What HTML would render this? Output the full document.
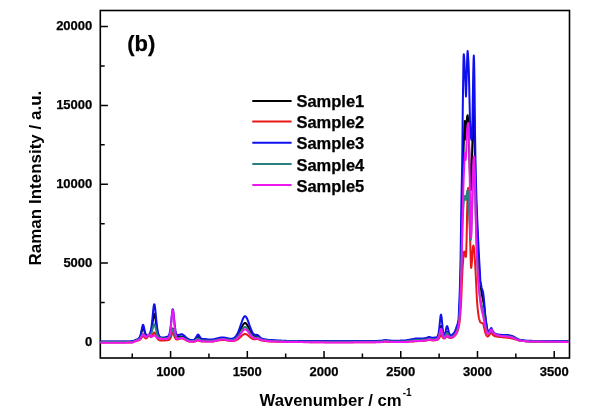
<!DOCTYPE html>
<html><head><meta charset="utf-8"><title>Raman</title><style>
html,body{margin:0;padding:0;background:#fff;}
body{width:601px;height:415px;overflow:hidden;}
svg{display:block;}
text{font-family:"Liberation Sans",Arial,sans-serif;font-weight:bold;fill:#000;stroke:#000;stroke-width:0.25px;}
.t{font-size:13px;}
.lg{font-size:16.5px;}
.ax{font-size:16.7px;stroke-width:0;}
.b{font-size:22px;}
</style></head><body>
<svg width="601" height="415" viewBox="0 0 601 415">
<rect x="100.30" y="10.50" width="469.20" height="347.50" fill="none" stroke="#000" stroke-width="1.6"/>
<path d="M132.24,358.00 V353.60 M170.60,358.00 V351.00 M208.96,358.00 V353.60 M247.32,358.00 V351.00 M285.68,358.00 V353.60 M324.04,358.00 V351.00 M362.40,358.00 V353.60 M400.76,358.00 V351.00 M439.12,358.00 V353.60 M477.48,358.00 V351.00 M515.84,358.00 V353.60 M554.20,358.00 V351.00 M100.30,342.00 H107.90 M100.30,302.56 H104.70 M100.30,263.12 H107.90 M100.30,223.69 H104.70 M100.30,184.25 H107.90 M100.30,144.81 H104.70 M100.30,105.38 H107.90 M100.30,65.94 H104.70 M100.30,26.50 H107.90" stroke="#000" stroke-width="1.5" fill="none"/>
<g fill="none" stroke-width="2" stroke-linejoin="round" stroke-linecap="round">
<path d="M101.1,341.8 101.6,341.8 102.1,341.8 102.6,341.8 103.1,341.8 103.6,341.8 104.1,341.8 104.6,341.8 105.1,341.8 105.6,341.8 106.1,341.8 106.6,341.8 107.1,341.8 107.6,341.8 108.1,341.8 108.6,341.8 109.1,341.8 109.6,341.8 110.1,341.8 110.6,341.8 111.1,341.8 111.6,341.8 112.1,341.8 112.6,341.8 113.1,341.8 113.6,341.8 114.1,341.8 114.6,341.8 115.1,341.8 115.6,341.8 116.1,341.8 116.6,341.8 117.1,341.8 117.6,341.8 118.1,341.8 118.6,341.8 119.1,341.8 119.6,341.8 120.1,341.8 120.6,341.8 121.1,341.8 121.6,341.8 122.1,341.8 122.6,341.8 123.1,341.8 123.6,341.8 124.1,341.8 124.6,341.8 125.1,341.8 125.6,341.8 126.1,341.8 126.6,341.8 127.1,341.8 127.6,341.8 128.1,341.8 128.6,341.8 129.1,341.8 129.6,341.8 130.1,341.7 130.6,341.7 131.1,341.7 131.6,341.7 132.1,341.7 132.6,341.5 133.1,341.3 133.6,341.1 134.1,341.0 134.6,340.8 135.1,340.6 135.6,340.4 136.1,340.2 136.6,340.0 137.1,339.8 137.6,339.6 138.1,339.3 138.6,339.0 139.1,338.6 139.6,338.0 140.1,337.1 140.6,335.8 141.1,334.0 141.6,331.8 142.1,329.5 142.6,327.6 143.1,327.0 143.6,327.9 144.1,329.8 144.6,331.8 145.1,333.6 145.6,334.8 146.1,335.6 146.6,336.0 147.1,336.0 147.6,335.9 148.1,335.6 148.6,335.3 149.1,334.9 149.6,334.6 150.1,334.1 150.6,333.1 151.1,331.5 151.6,329.2 152.1,326.2 152.6,322.6 153.1,318.8 153.6,315.5 154.1,313.7 154.6,313.9 155.1,316.3 155.6,319.9 156.1,323.8 156.6,327.5 157.1,330.5 157.6,333.0 158.1,334.7 158.6,336.0 159.1,336.8 159.6,337.4 160.1,337.7 160.6,337.8 161.1,338.0 161.6,338.0 162.1,338.1 162.6,338.1 163.1,338.1 163.6,338.1 164.1,338.0 164.6,338.0 165.1,337.9 165.6,337.9 166.1,337.8 166.6,337.8 167.1,337.8 167.6,337.7 168.1,337.6 168.6,337.5 169.1,337.2 169.6,336.7 170.1,335.8 170.6,334.7 171.1,333.1 171.6,331.4 172.1,329.7 172.6,328.6 173.1,328.7 173.6,329.9 174.1,331.7 174.6,333.4 175.1,334.8 175.6,335.9 176.1,336.5 176.6,336.9 177.1,337.0 177.6,337.0 178.1,337.0 178.6,336.9 179.1,336.8 179.6,336.7 180.1,336.6 180.6,336.5 181.1,336.4 181.6,336.4 182.1,336.5 182.6,336.7 183.1,336.9 183.6,337.1 184.1,337.4 184.6,337.7 185.1,338.0 185.6,338.4 186.1,338.7 186.6,339.0 187.1,339.3 187.6,339.5 188.1,339.7 188.6,339.9 189.1,340.1 189.6,340.3 190.1,340.4 190.6,340.5 191.1,340.6 191.6,340.7 192.1,340.8 192.6,340.8 193.1,340.7 193.6,340.6 194.1,340.4 194.6,340.2 195.1,339.9 195.6,339.4 196.1,338.9 196.6,338.2 197.1,337.6 197.6,337.1 198.1,337.0 198.6,337.2 199.1,337.7 199.6,338.3 200.1,338.8 200.6,339.2 201.1,339.6 201.6,339.8 202.1,339.9 202.6,340.0 203.1,340.0 203.6,340.0 204.1,340.0 204.6,340.0 205.1,340.0 205.6,340.1 206.1,340.1 206.6,340.2 207.1,340.2 207.6,340.2 208.1,340.3 208.6,340.3 209.1,340.3 209.6,340.3 210.1,340.3 210.6,340.3 211.1,340.3 211.6,340.3 212.1,340.3 212.6,340.2 213.1,340.1 213.6,340.1 214.1,340.0 214.6,339.9 215.1,339.8 215.6,339.6 216.1,339.5 216.6,339.4 217.1,339.3 217.6,339.2 218.1,339.1 218.6,339.0 219.1,338.9 219.6,338.8 220.1,338.7 220.6,338.6 221.1,338.6 221.6,338.5 222.1,338.5 222.6,338.5 223.1,338.5 223.6,338.5 224.1,338.6 224.6,338.6 225.1,338.7 225.6,338.7 226.1,338.8 226.6,338.9 227.1,339.0 227.6,339.1 228.1,339.2 228.6,339.3 229.1,339.3 229.6,339.4 230.1,339.5 230.6,339.5 231.1,339.5 231.6,339.5 232.1,339.5 232.6,339.4 233.1,339.3 233.6,339.1 234.1,338.8 234.6,338.6 235.1,338.2 235.6,337.8 236.1,337.3 236.6,336.8 237.1,336.1 237.6,335.4 238.1,334.6 238.6,333.8 239.1,332.9 239.6,331.9 240.1,330.8 240.6,329.8 241.1,328.7 241.6,327.6 242.1,326.5 242.6,325.6 243.1,324.7 243.6,324.0 244.1,323.4 244.6,323.1 245.1,323.0 245.6,323.1 246.1,323.5 246.6,324.1 247.1,324.8 247.6,325.7 248.1,326.7 248.6,327.7 249.1,328.7 249.6,329.8 250.1,330.8 250.6,331.7 251.1,332.6 251.6,333.5 252.1,334.2 252.6,334.9 253.1,335.4 253.6,335.9 254.1,336.2 254.6,336.4 255.1,336.5 255.6,336.5 256.1,336.4 256.6,336.4 257.1,336.4 257.6,336.5 258.1,336.8 258.6,337.1 259.1,337.5 259.6,337.9 260.1,338.3 260.6,338.6 261.1,338.9 261.6,339.1 262.1,339.2 262.6,339.4 263.1,339.5 263.6,339.7 264.1,339.8 264.6,339.8 265.1,339.9 265.6,340.0 266.1,340.1 266.6,340.1 267.1,340.2 267.6,340.2 268.1,340.3 268.6,340.4 269.1,340.4 269.6,340.5 270.1,340.5 270.6,340.5 271.1,340.6 271.6,340.6 272.1,340.6 272.6,340.6 273.1,340.7 273.6,340.7 274.1,340.7 274.6,340.7 275.1,340.8 275.6,340.8 276.1,340.8 276.6,340.8 277.1,340.8 277.6,340.9 278.1,340.9 278.6,340.9 279.1,340.9 279.6,340.9 280.1,341.0 280.6,341.0 281.1,341.0 281.6,341.0 282.1,341.0 282.6,341.1 283.1,341.1 283.6,341.1 284.1,341.1 284.6,341.1 285.1,341.1 285.6,341.2 286.1,341.2 286.6,341.2 287.1,341.2 287.6,341.2 288.1,341.2 288.6,341.3 289.1,341.3 289.6,341.3 290.1,341.3 290.6,341.3 291.1,341.3 291.6,341.3 292.1,341.3 292.6,341.3 293.1,341.3 293.6,341.3 294.1,341.3 294.6,341.3 295.1,341.3 295.6,341.3 296.1,341.3 296.6,341.3 297.1,341.3 297.6,341.3 298.1,341.3 298.6,341.3 299.1,341.3 299.6,341.3 300.1,341.3 300.6,341.3 301.1,341.3 301.6,341.3 302.1,341.4 302.6,341.4 303.1,341.4 303.6,341.4 304.1,341.4 304.6,341.4 305.1,341.4 305.6,341.4 306.1,341.4 306.6,341.4 307.1,341.4 307.6,341.4 308.1,341.4 308.6,341.4 309.1,341.4 309.6,341.4 310.1,341.4 310.6,341.4 311.1,341.4 311.6,341.4 312.1,341.4 312.6,341.4 313.1,341.4 313.6,341.4 314.1,341.4 314.6,341.4 315.1,341.4 315.6,341.4 316.1,341.4 316.6,341.4 317.1,341.4 317.6,341.4 318.1,341.4 318.6,341.4 319.1,341.4 319.6,341.4 320.1,341.4 320.6,341.4 321.1,341.4 321.6,341.4 322.1,341.4 322.6,341.4 323.1,341.4 323.6,341.4 324.1,341.4 324.6,341.4 325.1,341.4 325.6,341.4 326.1,341.4 326.6,341.4 327.1,341.4 327.6,341.4 328.1,341.4 328.6,341.4 329.1,341.4 329.6,341.4 330.1,341.4 330.6,341.4 331.1,341.4 331.6,341.4 332.1,341.4 332.6,341.4 333.1,341.4 333.6,341.4 334.1,341.4 334.6,341.4 335.1,341.4 335.6,341.4 336.1,341.4 336.6,341.4 337.1,341.4 337.6,341.4 338.1,341.4 338.6,341.4 339.1,341.4 339.6,341.4 340.1,341.4 340.6,341.4 341.1,341.4 341.6,341.4 342.1,341.4 342.6,341.4 343.1,341.4 343.6,341.4 344.1,341.4 344.6,341.4 345.1,341.4 345.6,341.4 346.1,341.4 346.6,341.4 347.1,341.4 347.6,341.4 348.1,341.4 348.6,341.4 349.1,341.4 349.6,341.4 350.1,341.4 350.6,341.4 351.1,341.4 351.6,341.3 352.1,341.3 352.6,341.3 353.1,341.3 353.6,341.3 354.1,341.3 354.6,341.3 355.1,341.3 355.6,341.3 356.1,341.3 356.6,341.3 357.1,341.3 357.6,341.3 358.1,341.3 358.6,341.3 359.1,341.3 359.6,341.3 360.1,341.3 360.6,341.3 361.1,341.3 361.6,341.3 362.1,341.3 362.6,341.3 363.1,341.3 363.6,341.3 364.1,341.3 364.6,341.3 365.1,341.3 365.6,341.3 366.1,341.3 366.6,341.3 367.1,341.3 367.6,341.3 368.1,341.3 368.6,341.3 369.1,341.3 369.6,341.3 370.1,341.3 370.6,341.3 371.1,341.3 371.6,341.3 372.1,341.3 372.6,341.3 373.1,341.3 373.6,341.3 374.1,341.3 374.6,341.3 375.1,341.3 375.6,341.3 376.1,341.3 376.6,341.3 377.1,341.3 377.6,341.3 378.1,341.3 378.6,341.2 379.1,341.2 379.6,341.2 380.1,341.2 380.6,341.2 381.1,341.1 381.6,341.1 382.1,341.0 382.6,341.0 383.1,340.9 383.6,340.8 384.1,340.7 384.6,340.7 385.1,340.6 385.6,340.6 386.1,340.6 386.6,340.6 387.1,340.7 387.6,340.7 388.1,340.8 388.6,340.9 389.1,340.9 389.6,341.0 390.1,341.0 390.6,341.0 391.1,341.1 391.6,341.1 392.1,341.1 392.6,341.1 393.1,341.1 393.6,341.1 394.1,341.1 394.6,341.1 395.1,341.1 395.6,341.1 396.1,341.1 396.6,341.1 397.1,341.1 397.6,341.1 398.1,341.1 398.6,341.1 399.1,341.1 399.6,341.1 400.1,341.1 400.6,341.0 401.1,341.0 401.6,341.0 402.1,341.0 402.6,341.0 403.1,341.0 403.6,341.0 404.1,341.0 404.6,341.0 405.1,341.0 405.6,340.9 406.1,340.9 406.6,340.8 407.1,340.7 407.6,340.6 408.1,340.6 408.6,340.5 409.1,340.4 409.6,340.4 410.1,340.3 410.6,340.2 411.1,340.2 411.6,340.1 412.1,340.0 412.6,340.0 413.1,339.9 413.6,339.8 414.1,339.8 414.6,339.7 415.1,339.6 415.6,339.6 416.1,339.5 416.6,339.5 417.1,339.5 417.6,339.4 418.1,339.4 418.6,339.4 419.1,339.4 419.6,339.4 420.1,339.4 420.6,339.3 421.1,339.3 421.6,339.3 422.1,339.3 422.6,339.3 423.1,339.2 423.6,339.2 424.1,339.2 424.6,339.1 425.1,339.1 425.6,339.0 426.1,338.9 426.6,338.8 427.1,338.6 427.6,338.4 428.1,338.2 428.6,338.1 429.1,338.0 429.6,338.0 430.1,338.2 430.6,338.3 431.1,338.4 431.6,338.6 432.1,338.6 432.6,338.7 433.1,338.7 433.6,338.6 434.1,338.6 434.6,338.6 435.1,338.5 435.6,338.4 436.1,338.4 436.6,338.2 437.1,338.0 437.6,337.6 438.1,336.9 438.6,335.7 439.1,333.9 439.6,331.6 440.1,328.9 440.6,326.7 441.1,326.0 441.6,327.4 442.1,329.9 442.6,332.5 443.1,334.6 443.6,335.9 444.1,336.5 444.6,336.3 445.1,335.6 445.6,334.6 446.1,333.4 446.6,332.4 447.1,332.0 447.6,332.4 448.1,333.4 448.6,334.4 449.1,335.2 449.6,335.8 450.1,336.1 450.6,336.3 450.8,336.3 451.0,336.2 451.2,336.2 451.4,336.1 451.6,336.0 451.8,335.9 452.0,335.8 452.2,335.7 452.4,335.6 452.6,335.4 452.8,335.3 453.0,335.1 453.2,335.0 453.4,334.8 453.6,334.6 453.8,334.4 454.0,334.2 454.2,334.0 454.4,333.7 454.6,333.5 454.8,333.2 455.0,332.9 455.2,332.6 455.4,332.3 455.6,331.9 455.8,331.5 456.0,331.1 456.2,330.7 456.4,330.2 456.6,329.8 456.8,329.3 457.0,328.9 457.2,328.5 457.4,328.0 457.6,327.5 457.8,326.9 458.0,326.2 458.2,325.4 458.4,324.5 458.6,323.4 458.8,321.6 459.0,319.2 459.2,316.2 459.4,312.8 459.6,309.0 459.8,305.0 460.0,300.1 460.2,294.1 460.4,287.2 460.6,280.0 460.8,272.4 461.0,263.9 461.2,254.8 461.4,244.8 461.6,233.2 461.8,221.1 462.0,210.0 462.2,200.1 462.4,190.7 462.6,181.8 462.8,173.7 463.0,166.5 463.2,159.9 463.4,153.9 463.6,148.2 463.8,142.7 464.0,137.2 464.2,131.6 464.4,126.8 464.6,123.4 464.8,120.9 465.0,121.2 465.2,125.5 465.4,131.2 465.6,138.6 465.8,139.5 466.0,136.5 466.2,132.1 466.4,128.0 466.6,124.4 466.8,120.7 467.0,117.8 467.2,116.5 467.4,115.6 467.6,115.2 467.8,116.2 468.0,118.6 468.2,121.6 468.4,125.9 468.6,131.5 468.8,137.7 469.0,144.0 469.2,150.0 469.4,156.2 469.6,163.0 469.8,169.9 470.0,176.3 470.2,181.5 470.4,185.0 470.6,187.4 470.8,189.2 471.0,190.0 471.2,187.4 471.4,180.9 471.6,172.4 471.8,163.8 472.0,156.5 472.2,149.6 472.4,142.4 472.6,135.0 472.8,126.2 473.0,117.8 473.2,112.9 473.4,109.5 473.6,108.0 473.8,109.4 474.0,112.8 474.2,118.4 474.4,129.5 474.6,140.1 474.8,150.3 475.0,160.0 475.2,169.3 475.4,178.3 475.6,186.4 475.8,193.3 476.0,199.2 476.2,204.6 476.4,209.8 476.6,215.0 476.8,220.3 477.0,225.5 477.2,230.6 477.4,235.6 477.6,240.4 477.8,245.1 478.0,249.7 478.2,254.1 478.4,258.0 478.6,261.6 478.8,265.0 479.0,268.1 479.2,271.1 479.4,273.8 479.6,276.2 479.8,278.5 480.0,280.6 480.2,282.5 480.4,284.3 480.6,286.0 480.8,287.5 481.0,288.9 481.2,290.3 481.4,291.5 481.6,292.7 481.8,293.9 482.0,295.0 482.2,296.1 482.4,297.1 482.6,298.1 482.8,299.0 483.0,300.0 483.2,301.0 483.4,302.0 483.6,303.0 483.8,304.0 484.0,305.1 484.2,306.3 484.4,307.8 484.6,309.7 484.8,311.9 485.0,314.0 485.2,316.0 485.4,317.8 485.6,319.5 485.8,321.1 486.0,322.6 486.2,324.0 486.4,325.3 486.6,326.6 486.8,327.7 487.0,328.8 487.2,329.8 487.4,330.5 487.6,331.1 487.8,331.8 488.0,332.3 488.2,332.7 488.4,333.0 488.6,333.0 488.8,332.9 489.0,332.8 489.2,332.6 489.4,332.4 489.6,332.2 489.8,332.0 490.0,331.8 490.2,331.4 490.4,331.1 490.6,330.7 490.8,330.4 491.0,330.2 491.2,330.0 491.4,330.0 491.6,330.2 491.8,330.6 492.0,331.0 492.2,331.4 492.4,331.8 492.6,332.2 492.8,332.5 493.0,332.8 493.2,333.1 493.4,333.4 493.6,333.6 493.8,333.8 494.0,334.0 494.2,334.1 494.4,334.3 494.6,334.4 494.8,334.5 495.0,334.6 495.2,334.7 495.4,334.8 495.6,334.9 495.8,334.9 496.0,335.0 496.2,335.1 496.4,335.1 496.6,335.2 496.8,335.3 497.0,335.3 497.2,335.3 497.4,335.4 497.6,335.4 497.8,335.5 498.0,335.5 498.2,335.6 498.4,335.6 498.6,335.7 498.8,335.7 499.0,335.7 499.2,335.7 499.4,335.8 499.6,335.8 499.8,335.8 500.0,335.8 501.0,335.8 502.0,335.8 503.0,335.8 504.0,335.8 505.0,335.8 506.0,335.8 507.0,335.8 508.0,335.8 509.0,336.0 510.0,336.2 511.0,336.4 512.0,336.6 513.0,336.9 514.0,337.4 515.0,337.9 516.0,338.5 517.0,339.0 518.0,339.5 519.0,339.9 520.0,340.2 521.0,340.4 522.0,340.5 523.0,340.6 524.0,340.8 525.0,340.9 526.0,341.0 527.0,341.1 528.0,341.1 529.0,341.2 530.0,341.2 531.0,341.2 532.0,341.2 533.0,341.3 534.0,341.3 535.0,341.3 536.0,341.3 537.0,341.3 538.0,341.3 539.0,341.3 540.0,341.4 541.0,341.4 542.0,341.4 543.0,341.4 544.0,341.4 545.0,341.4 546.0,341.4 547.0,341.4 548.0,341.4 549.0,341.4 550.0,341.4 551.0,341.5 552.0,341.5 553.0,341.5 554.0,341.5 555.0,341.5 556.0,341.5 557.0,341.5 558.0,341.5 559.0,341.5 560.0,341.5 561.0,341.5 562.0,341.6 563.0,341.6 564.0,341.6 565.0,341.6 566.0,341.6 567.0,341.6 568.0,341.6" stroke="#000000"/>
<path d="M101.1,342.6 101.6,342.6 102.1,342.6 102.6,342.6 103.1,342.6 103.6,342.6 104.1,342.6 104.6,342.6 105.1,342.6 105.6,342.6 106.1,342.6 106.6,342.6 107.1,342.6 107.6,342.6 108.1,342.6 108.6,342.6 109.1,342.6 109.6,342.6 110.1,342.6 110.6,342.6 111.1,342.6 111.6,342.6 112.1,342.6 112.6,342.6 113.1,342.6 113.6,342.6 114.1,342.6 114.6,342.6 115.1,342.6 115.6,342.6 116.1,342.6 116.6,342.6 117.1,342.6 117.6,342.6 118.1,342.6 118.6,342.6 119.1,342.6 119.6,342.6 120.1,342.6 120.6,342.6 121.1,342.6 121.6,342.6 122.1,342.6 122.6,342.6 123.1,342.6 123.6,342.6 124.1,342.6 124.6,342.6 125.1,342.6 125.6,342.6 126.1,342.6 126.6,342.5 127.1,342.5 127.6,342.5 128.1,342.5 128.6,342.5 129.1,342.5 129.6,342.5 130.1,342.5 130.6,342.5 131.1,342.5 131.6,342.5 132.1,342.5 132.6,342.3 133.1,342.1 133.6,341.9 134.1,341.7 134.6,341.5 135.1,341.3 135.6,341.2 136.1,341.0 136.6,340.8 137.1,340.6 137.6,340.5 138.1,340.4 138.6,340.3 139.1,340.1 139.6,339.9 140.1,339.6 140.6,339.1 141.1,338.5 141.6,337.7 142.1,336.9 142.6,336.2 143.1,336.0 143.6,336.3 144.1,336.8 144.6,337.5 145.1,338.0 145.6,338.3 146.1,338.4 146.6,338.2 147.1,337.8 147.6,337.2 148.1,336.4 148.6,335.7 149.1,335.5 149.6,335.8 150.1,336.4 150.6,336.8 151.1,336.9 151.6,336.6 152.1,336.0 152.6,335.0 153.1,334.0 153.6,333.0 154.1,332.5 154.6,332.7 155.1,333.4 155.6,334.6 156.1,335.9 156.6,337.0 157.1,338.0 157.6,338.8 158.1,339.4 158.6,339.8 159.1,340.1 159.6,340.3 160.1,340.4 160.6,340.5 161.1,340.5 161.6,340.5 162.1,340.5 162.6,340.5 163.1,340.5 163.6,340.5 164.1,340.4 164.6,340.4 165.1,340.4 165.6,340.3 166.1,340.3 166.6,340.3 167.1,340.3 167.6,340.2 168.1,340.1 168.6,340.0 169.1,339.8 169.6,339.4 170.1,338.7 170.6,337.8 171.1,336.6 171.6,335.2 172.1,333.9 172.6,333.1 173.1,333.2 173.6,334.1 174.1,335.5 174.6,336.8 175.1,337.9 175.6,338.7 176.1,339.2 176.6,339.4 177.1,339.5 177.6,339.5 178.1,339.4 178.6,339.2 179.1,339.1 179.6,338.9 180.1,338.7 180.6,338.6 181.1,338.5 181.6,338.5 182.1,338.5 182.6,338.6 183.1,338.7 183.6,338.9 184.1,339.2 184.6,339.4 185.1,339.7 185.6,340.0 186.1,340.2 186.6,340.5 187.1,340.7 187.6,340.9 188.1,341.1 188.6,341.2 189.1,341.4 189.6,341.5 190.1,341.6 190.6,341.6 191.1,341.7 191.6,341.7 192.1,341.8 192.6,341.8 193.1,341.8 193.6,341.7 194.1,341.7 194.6,341.6 195.1,341.4 195.6,341.3 196.1,341.0 196.6,340.8 197.1,340.5 197.6,340.4 198.1,340.3 198.6,340.4 199.1,340.6 199.6,340.8 200.1,341.0 200.6,341.2 201.1,341.3 201.6,341.4 202.1,341.4 202.6,341.4 203.1,341.4 203.6,341.4 204.1,341.4 204.6,341.4 205.1,341.4 205.6,341.4 206.1,341.5 206.6,341.5 207.1,341.5 207.6,341.6 208.1,341.6 208.6,341.6 209.1,341.6 209.6,341.6 210.1,341.6 210.6,341.6 211.1,341.6 211.6,341.6 212.1,341.6 212.6,341.5 213.1,341.5 213.6,341.4 214.1,341.3 214.6,341.2 215.1,341.1 215.6,341.0 216.1,340.9 216.6,340.8 217.1,340.7 217.6,340.6 218.1,340.5 218.6,340.4 219.1,340.3 219.6,340.2 220.1,340.2 220.6,340.1 221.1,340.1 221.6,340.0 222.1,340.0 222.6,340.0 223.1,340.0 223.6,340.0 224.1,340.0 224.6,340.1 225.1,340.1 225.6,340.2 226.1,340.3 226.6,340.3 227.1,340.4 227.6,340.5 228.1,340.6 228.6,340.7 229.1,340.7 229.6,340.8 230.1,340.9 230.6,340.9 231.1,341.0 231.6,341.0 232.1,341.0 232.6,341.0 233.1,341.0 233.6,340.9 234.1,340.8 234.6,340.7 235.1,340.6 235.6,340.4 236.1,340.2 236.6,340.0 237.1,339.7 237.6,339.4 238.1,339.1 238.6,338.7 239.1,338.3 239.6,337.9 240.1,337.4 240.6,337.0 241.1,336.5 241.6,336.0 242.1,335.6 242.6,335.1 243.1,334.8 243.6,334.4 244.1,334.2 244.6,334.0 245.1,334.0 245.6,334.0 246.1,334.2 246.6,334.4 247.1,334.7 247.6,335.1 248.1,335.5 248.6,335.9 249.1,336.4 249.6,336.8 250.1,337.2 250.6,337.6 251.1,338.0 251.6,338.3 252.1,338.6 252.6,338.9 253.1,339.1 253.6,339.2 254.1,339.3 254.6,339.3 255.1,339.3 255.6,339.2 256.1,339.1 256.6,339.0 257.1,339.0 257.6,339.0 258.1,339.1 258.6,339.3 259.1,339.5 259.6,339.8 260.1,340.0 260.6,340.2 261.1,340.3 261.6,340.4 262.1,340.5 262.6,340.6 263.1,340.7 263.6,340.8 264.1,340.9 264.6,341.0 265.1,341.0 265.6,341.1 266.1,341.1 266.6,341.2 267.1,341.2 267.6,341.3 268.1,341.3 268.6,341.4 269.1,341.4 269.6,341.5 270.1,341.5 270.6,341.5 271.1,341.5 271.6,341.6 272.1,341.6 272.6,341.6 273.1,341.6 273.6,341.6 274.1,341.6 274.6,341.6 275.1,341.7 275.6,341.7 276.1,341.7 276.6,341.7 277.1,341.7 277.6,341.7 278.1,341.7 278.6,341.7 279.1,341.8 279.6,341.8 280.1,341.8 280.6,341.8 281.1,341.8 281.6,341.8 282.1,341.8 282.6,341.8 283.1,341.8 283.6,341.9 284.1,341.9 284.6,341.9 285.1,341.9 285.6,341.9 286.1,341.9 286.6,341.9 287.1,341.9 287.6,341.9 288.1,342.0 288.6,342.0 289.1,342.0 289.6,342.0 290.1,342.0 290.6,342.0 291.1,342.0 291.6,342.0 292.1,342.0 292.6,342.0 293.1,342.0 293.6,342.0 294.1,342.0 294.6,342.0 295.1,342.0 295.6,342.0 296.1,342.1 296.6,342.1 297.1,342.1 297.6,342.1 298.1,342.1 298.6,342.1 299.1,342.1 299.6,342.1 300.1,342.1 300.6,342.1 301.1,342.1 301.6,342.1 302.1,342.1 302.6,342.1 303.1,342.1 303.6,342.1 304.1,342.1 304.6,342.1 305.1,342.1 305.6,342.1 306.1,342.1 306.6,342.1 307.1,342.1 307.6,342.1 308.1,342.1 308.6,342.1 309.1,342.2 309.6,342.2 310.1,342.2 310.6,342.2 311.1,342.2 311.6,342.2 312.1,342.2 312.6,342.2 313.1,342.2 313.6,342.2 314.1,342.2 314.6,342.2 315.1,342.2 315.6,342.2 316.1,342.2 316.6,342.2 317.1,342.2 317.6,342.2 318.1,342.2 318.6,342.2 319.1,342.2 319.6,342.2 320.1,342.2 320.6,342.2 321.1,342.2 321.6,342.2 322.1,342.2 322.6,342.2 323.1,342.3 323.6,342.3 324.1,342.3 324.6,342.3 325.1,342.3 325.6,342.3 326.1,342.3 326.6,342.3 327.1,342.3 327.6,342.3 328.1,342.3 328.6,342.3 329.1,342.3 329.6,342.3 330.1,342.3 330.6,342.3 331.1,342.3 331.6,342.3 332.1,342.3 332.6,342.3 333.1,342.3 333.6,342.3 334.1,342.3 334.6,342.3 335.1,342.3 335.6,342.3 336.1,342.3 336.6,342.3 337.1,342.3 337.6,342.3 338.1,342.3 338.6,342.3 339.1,342.3 339.6,342.3 340.1,342.3 340.6,342.3 341.1,342.3 341.6,342.3 342.1,342.3 342.6,342.3 343.1,342.3 343.6,342.3 344.1,342.3 344.6,342.3 345.1,342.3 345.6,342.3 346.1,342.3 346.6,342.3 347.1,342.2 347.6,342.2 348.1,342.2 348.6,342.2 349.1,342.2 349.6,342.2 350.1,342.2 350.6,342.2 351.1,342.2 351.6,342.2 352.1,342.2 352.6,342.2 353.1,342.2 353.6,342.2 354.1,342.2 354.6,342.2 355.1,342.2 355.6,342.2 356.1,342.2 356.6,342.2 357.1,342.2 357.6,342.2 358.1,342.2 358.6,342.2 359.1,342.2 359.6,342.2 360.1,342.2 360.6,342.2 361.1,342.2 361.6,342.2 362.1,342.2 362.6,342.2 363.1,342.2 363.6,342.2 364.1,342.2 364.6,342.2 365.1,342.2 365.6,342.2 366.1,342.2 366.6,342.2 367.1,342.2 367.6,342.2 368.1,342.2 368.6,342.2 369.1,342.2 369.6,342.2 370.1,342.2 370.6,342.2 371.1,342.2 371.6,342.2 372.1,342.2 372.6,342.2 373.1,342.2 373.6,342.2 374.1,342.2 374.6,342.2 375.1,342.2 375.6,342.2 376.1,342.1 376.6,342.1 377.1,342.1 377.6,342.1 378.1,342.1 378.6,342.1 379.1,342.1 379.6,342.1 380.1,342.1 380.6,342.1 381.1,342.0 381.6,342.0 382.1,342.0 382.6,341.9 383.1,341.9 383.6,341.8 384.1,341.8 384.6,341.7 385.1,341.7 385.6,341.7 386.1,341.7 386.6,341.7 387.1,341.7 387.6,341.8 388.1,341.8 388.6,341.9 389.1,341.9 389.6,341.9 390.1,342.0 390.6,342.0 391.1,342.0 391.6,342.0 392.1,342.0 392.6,342.0 393.1,342.0 393.6,342.0 394.1,342.0 394.6,342.0 395.1,342.0 395.6,342.0 396.1,342.0 396.6,342.0 397.1,342.0 397.6,342.0 398.1,342.0 398.6,342.0 399.1,342.0 399.6,342.0 400.1,341.9 400.6,341.9 401.1,341.9 401.6,341.9 402.1,341.9 402.6,341.9 403.1,341.9 403.6,341.9 404.1,341.9 404.6,341.9 405.1,341.9 405.6,341.9 406.1,341.8 406.6,341.8 407.1,341.8 407.6,341.7 408.1,341.7 408.6,341.7 409.1,341.6 409.6,341.6 410.1,341.6 410.6,341.5 411.1,341.5 411.6,341.5 412.1,341.5 412.6,341.4 413.1,341.4 413.6,341.4 414.1,341.3 414.6,341.3 415.1,341.3 415.6,341.2 416.1,341.2 416.6,341.2 417.1,341.2 417.6,341.1 418.1,341.1 418.6,341.1 419.1,341.1 419.6,341.1 420.1,341.0 420.6,341.0 421.1,341.0 421.6,341.0 422.1,340.9 422.6,340.9 423.1,340.9 423.6,340.9 424.1,340.8 424.6,340.8 425.1,340.7 425.6,340.7 426.1,340.6 426.6,340.5 427.1,340.3 427.6,340.1 428.1,340.0 428.6,339.8 429.1,339.8 429.6,339.8 430.1,339.9 430.6,340.1 431.1,340.2 431.6,340.3 432.1,340.3 432.6,340.4 433.1,340.4 433.6,340.4 434.1,340.4 434.6,340.3 435.1,340.3 435.6,340.2 436.1,340.1 436.6,340.0 437.1,339.9 437.6,339.7 438.1,339.4 438.6,338.9 439.1,338.2 439.6,337.2 440.1,336.2 440.6,335.3 441.1,335.0 441.6,335.5 442.1,336.3 442.6,337.2 443.1,337.9 443.6,338.3 444.1,338.5 444.6,338.4 445.1,338.1 445.6,337.6 446.1,337.1 446.6,336.7 447.1,336.5 447.6,336.6 448.1,337.0 448.6,337.4 449.1,337.7 449.6,337.9 450.1,338.0 450.6,338.0 450.8,338.0 451.0,338.0 451.2,337.9 451.4,337.9 451.6,337.8 451.8,337.8 452.0,337.7 452.2,337.6 452.4,337.5 452.6,337.5 452.8,337.4 453.0,337.3 453.2,337.1 453.4,337.0 453.6,336.8 453.8,336.7 454.0,336.5 454.2,336.4 454.4,336.2 454.6,336.0 454.8,335.8 455.0,335.6 455.2,335.4 455.4,335.1 455.6,334.9 455.8,334.6 456.0,334.3 456.2,334.0 456.4,333.7 456.6,333.3 456.8,332.9 457.0,332.5 457.2,332.1 457.4,331.6 457.6,331.0 457.8,330.4 458.0,329.8 458.2,329.1 458.4,328.4 458.6,327.6 458.8,326.6 459.0,325.6 459.2,324.3 459.4,323.0 459.6,321.5 459.8,319.8 460.0,318.0 460.2,315.9 460.4,313.4 460.6,310.5 460.8,307.2 461.0,303.7 461.2,300.0 461.4,295.5 461.6,290.2 461.8,284.8 462.0,280.0 462.2,275.8 462.4,271.8 462.6,268.0 462.8,264.7 463.0,262.0 463.2,259.6 463.4,257.2 463.6,255.0 463.8,253.2 464.0,251.9 464.2,251.5 464.4,251.8 464.6,252.4 464.8,253.2 465.0,254.0 465.2,254.8 465.4,255.6 465.6,256.4 465.8,256.9 466.0,256.5 466.2,252.7 466.4,246.7 466.6,240.0 466.8,230.9 467.0,219.1 467.2,208.6 467.4,202.2 467.6,196.9 467.8,192.3 468.0,189.2 468.2,188.0 468.4,189.1 468.6,191.9 468.8,195.7 469.0,200.0 469.2,205.7 469.4,213.4 469.6,221.3 469.8,228.4 470.0,235.3 470.2,241.8 470.4,248.4 470.6,255.9 470.8,262.9 471.0,267.4 471.2,267.9 471.4,266.8 471.6,265.1 471.8,263.1 472.0,260.7 472.2,256.9 472.4,252.8 472.6,250.0 472.8,248.3 473.0,246.9 473.2,245.9 473.4,245.5 473.6,245.9 473.8,246.9 474.0,248.4 474.2,250.0 474.4,252.2 474.6,255.2 474.8,258.6 475.0,262.0 475.2,265.3 475.4,268.8 475.6,272.4 475.8,276.1 476.0,280.0 476.2,284.2 476.4,288.8 476.6,293.2 476.8,297.0 477.0,300.2 477.2,303.1 477.4,305.7 477.6,308.0 477.8,310.0 478.0,311.7 478.2,313.3 478.4,314.7 478.6,316.0 478.8,317.2 479.0,318.2 479.2,319.0 479.4,319.7 479.6,320.4 479.8,321.0 480.0,321.6 480.2,322.0 480.4,322.3 480.6,322.5 480.8,322.6 481.0,322.7 481.2,322.7 481.4,322.8 481.6,322.8 481.8,322.9 482.0,323.0 482.2,323.1 482.4,323.2 482.6,323.4 482.8,323.5 483.0,323.7 483.2,324.0 483.4,324.5 483.6,325.2 483.8,326.1 484.0,327.1 484.2,328.0 484.4,328.9 484.6,329.8 484.8,330.7 485.0,331.5 485.2,332.3 485.4,333.0 485.6,333.6 485.8,334.1 486.0,334.6 486.2,335.0 486.4,335.4 486.6,335.6 486.8,335.9 487.0,336.1 487.2,336.3 487.4,336.5 487.6,336.5 487.8,336.5 488.0,336.4 488.2,336.2 488.4,336.1 488.6,335.9 488.8,335.7 489.0,335.5 489.2,335.3 489.4,335.0 489.6,334.7 489.8,334.4 490.0,334.1 490.2,333.8 490.4,333.6 490.6,333.4 490.8,333.3 491.0,333.2 491.2,333.1 491.4,333.0 491.6,333.0 491.8,333.2 492.0,333.4 492.2,333.8 492.4,334.1 492.6,334.5 492.8,334.8 493.0,335.0 493.2,335.2 493.4,335.3 493.6,335.5 493.8,335.6 494.0,335.7 494.2,335.9 494.4,336.0 494.6,336.1 494.8,336.1 495.0,336.2 495.2,336.3 495.4,336.3 495.6,336.4 495.8,336.4 496.0,336.4 496.2,336.5 496.4,336.5 496.6,336.6 496.8,336.6 497.0,336.6 497.2,336.6 497.4,336.7 497.6,336.7 497.8,336.7 498.0,336.8 498.2,336.8 498.4,336.8 498.6,336.8 498.8,336.9 499.0,336.9 499.2,336.9 499.4,336.9 499.6,337.0 499.8,337.0 500.0,337.0 501.0,337.1 502.0,337.2 503.0,337.3 504.0,337.4 505.0,337.5 506.0,337.6 507.0,337.7 508.0,337.8 509.0,337.9 510.0,338.0 511.0,338.2 512.0,338.4 513.0,338.7 514.0,339.0 515.0,339.3 516.0,339.6 517.0,339.9 518.0,340.2 519.0,340.4 520.0,340.6 521.0,340.7 522.0,340.9 523.0,341.0 524.0,341.1 525.0,341.2 526.0,341.4 527.0,341.4 528.0,341.5 529.0,341.6 530.0,341.6 531.0,341.6 532.0,341.6 533.0,341.7 534.0,341.7 535.0,341.7 536.0,341.7 537.0,341.7 538.0,341.7 539.0,341.7 540.0,341.8 541.0,341.8 542.0,341.8 543.0,341.8 544.0,341.8 545.0,341.8 546.0,341.8 547.0,341.8 548.0,341.8 549.0,341.8 550.0,341.8 551.0,341.9 552.0,341.9 553.0,341.9 554.0,341.9 555.0,341.9 556.0,341.9 557.0,341.9 558.0,341.9 559.0,341.9 560.0,341.9 561.0,341.9 562.0,342.0 563.0,342.0 564.0,342.0 565.0,342.0 566.0,342.0 567.0,342.0 568.0,342.0" stroke="#e81818"/>
<path d="M101.1,341.4 101.6,341.4 102.1,341.4 102.6,341.4 103.1,341.4 103.6,341.4 104.1,341.4 104.6,341.4 105.1,341.4 105.6,341.4 106.1,341.4 106.6,341.4 107.1,341.4 107.6,341.4 108.1,341.4 108.6,341.4 109.1,341.4 109.6,341.4 110.1,341.4 110.6,341.4 111.1,341.4 111.6,341.4 112.1,341.4 112.6,341.4 113.1,341.4 113.6,341.5 114.1,341.5 114.6,341.5 115.1,341.5 115.6,341.5 116.1,341.5 116.6,341.5 117.1,341.5 117.6,341.5 118.1,341.5 118.6,341.5 119.1,341.5 119.6,341.5 120.1,341.5 120.6,341.5 121.1,341.5 121.6,341.5 122.1,341.5 122.6,341.4 123.1,341.4 123.6,341.4 124.1,341.4 124.6,341.4 125.1,341.4 125.6,341.4 126.1,341.4 126.6,341.4 127.1,341.4 127.6,341.4 128.1,341.4 128.6,341.4 129.1,341.4 129.6,341.4 130.1,341.4 130.6,341.3 131.1,341.3 131.6,341.3 132.1,341.3 132.6,341.1 133.1,340.9 133.6,340.8 134.1,340.6 134.6,340.4 135.1,340.2 135.6,340.0 136.1,339.8 136.6,339.6 137.1,339.4 137.6,339.2 138.1,338.9 138.6,338.6 139.1,338.1 139.6,337.4 140.1,336.4 140.6,334.9 141.1,332.8 141.6,330.3 142.1,327.6 142.6,325.4 143.1,324.7 143.6,325.8 144.1,328.0 144.6,330.4 145.1,332.5 145.6,334.0 146.1,334.9 146.6,335.4 147.1,335.5 147.6,335.5 148.1,335.2 148.6,334.9 149.1,334.4 149.6,333.8 150.1,332.9 150.6,331.4 151.1,329.1 151.6,325.8 152.1,321.6 152.6,316.6 153.1,311.4 153.6,306.8 154.1,304.2 154.6,304.6 155.1,307.8 155.6,312.7 156.1,318.1 156.6,323.1 157.1,327.3 157.6,330.6 158.1,333.0 158.6,334.7 159.1,335.9 159.6,336.6 160.1,337.0 160.6,337.3 161.1,337.4 161.6,337.5 162.1,337.6 162.6,337.6 163.1,337.6 163.6,337.5 164.1,337.5 164.6,337.4 165.1,337.3 165.6,337.1 166.1,337.0 166.6,336.9 167.1,336.8 167.6,336.6 168.1,336.2 168.6,335.7 169.1,334.7 169.6,333.2 170.1,330.8 170.6,327.3 171.1,322.7 171.6,317.4 172.1,312.4 172.6,309.3 173.1,309.7 173.6,313.3 174.1,318.4 174.6,323.6 175.1,327.9 175.6,331.0 176.1,333.0 176.6,334.3 177.1,334.9 177.6,335.1 178.1,335.2 178.6,335.1 179.1,334.9 179.6,334.7 180.1,334.5 180.6,334.4 181.1,334.3 181.6,334.2 182.1,334.3 182.6,334.5 183.1,334.8 183.6,335.1 184.1,335.6 184.6,336.0 185.1,336.5 185.6,337.0 186.1,337.5 186.6,337.9 187.1,338.3 187.6,338.7 188.1,339.0 188.6,339.2 189.1,339.5 189.6,339.7 190.1,339.8 190.6,339.9 191.1,340.0 191.6,340.1 192.1,340.2 192.6,340.2 193.1,340.1 193.6,339.9 194.1,339.7 194.6,339.3 195.1,338.8 195.6,338.2 196.1,337.3 196.6,336.4 197.1,335.5 197.6,334.8 198.1,334.6 198.6,334.9 199.1,335.6 199.6,336.5 200.1,337.2 200.6,337.9 201.1,338.4 201.6,338.7 202.1,338.9 202.6,339.0 203.1,339.1 203.6,339.1 204.1,339.1 204.6,339.0 205.1,339.0 205.6,339.1 206.1,339.2 206.6,339.3 207.1,339.3 207.6,339.4 208.1,339.5 208.6,339.5 209.1,339.5 209.6,339.6 210.1,339.6 210.6,339.6 211.1,339.6 211.6,339.6 212.1,339.6 212.6,339.5 213.1,339.4 213.6,339.3 214.1,339.2 214.6,339.1 215.1,339.0 215.6,338.8 216.1,338.7 216.6,338.6 217.1,338.4 217.6,338.3 218.1,338.2 218.6,338.0 219.1,337.9 219.6,337.8 220.1,337.7 220.6,337.6 221.1,337.6 221.6,337.5 222.1,337.5 222.6,337.5 223.1,337.5 223.6,337.5 224.1,337.6 224.6,337.7 225.1,337.7 225.6,337.8 226.1,337.9 226.6,338.0 227.1,338.2 227.6,338.3 228.1,338.4 228.6,338.5 229.1,338.6 229.6,338.7 230.1,338.7 230.6,338.8 231.1,338.8 231.6,338.8 232.1,338.7 232.6,338.6 233.1,338.5 233.6,338.2 234.1,337.9 234.6,337.5 235.1,337.0 235.6,336.4 236.1,335.8 236.6,335.0 237.1,334.2 237.6,333.2 238.1,332.1 238.6,330.9 239.1,329.7 239.6,328.3 240.1,326.9 240.6,325.4 241.1,323.9 241.6,322.5 242.1,321.0 242.6,319.7 243.1,318.5 243.6,317.5 244.1,316.8 244.6,316.3 245.1,316.2 245.6,316.4 246.1,316.9 246.6,317.7 247.1,318.7 247.6,319.9 248.1,321.2 248.6,322.6 249.1,324.1 249.6,325.5 250.1,326.9 250.6,328.2 251.1,329.5 251.6,330.6 252.1,331.7 252.6,332.6 253.1,333.3 253.6,333.9 254.1,334.4 254.6,334.7 255.1,334.8 255.6,334.9 256.1,334.9 256.6,334.8 257.1,334.9 257.6,335.0 258.1,335.4 258.6,335.8 259.1,336.3 259.6,336.9 260.1,337.4 260.6,337.8 261.1,338.1 261.6,338.4 262.1,338.6 262.6,338.9 263.1,339.0 263.6,339.1 264.1,339.2 264.6,339.3 265.1,339.4 265.6,339.5 266.1,339.6 266.6,339.6 267.1,339.7 267.6,339.7 268.1,339.8 268.6,339.9 269.1,339.9 269.6,340.0 270.1,340.0 270.6,340.0 271.1,340.1 271.6,340.1 272.1,340.1 272.6,340.2 273.1,340.2 273.6,340.2 274.1,340.3 274.6,340.3 275.1,340.3 275.6,340.4 276.1,340.4 276.6,340.4 277.1,340.4 277.6,340.5 278.1,340.5 278.6,340.5 279.1,340.5 279.6,340.6 280.1,340.6 280.6,340.6 281.1,340.6 281.6,340.7 282.1,340.7 282.6,340.7 283.1,340.7 283.6,340.7 284.1,340.8 284.6,340.8 285.1,340.8 285.6,340.8 286.1,340.8 286.6,340.9 287.1,340.9 287.6,340.9 288.1,340.9 288.6,340.9 289.1,341.0 289.6,341.0 290.1,341.0 290.6,341.0 291.1,341.0 291.6,341.0 292.1,341.0 292.6,341.0 293.1,341.0 293.6,341.0 294.1,341.0 294.6,341.0 295.1,341.0 295.6,341.0 296.1,341.0 296.6,341.0 297.1,341.0 297.6,341.0 298.1,341.0 298.6,341.0 299.1,341.0 299.6,341.0 300.1,341.0 300.6,341.0 301.1,341.0 301.6,341.0 302.1,341.0 302.6,341.0 303.1,341.0 303.6,341.0 304.1,341.0 304.6,341.0 305.1,341.0 305.6,341.0 306.1,341.0 306.6,341.0 307.1,341.0 307.6,341.0 308.1,341.0 308.6,341.0 309.1,341.0 309.6,341.0 310.1,341.0 310.6,341.0 311.1,341.0 311.6,341.0 312.1,341.0 312.6,341.0 313.1,341.0 313.6,341.0 314.1,341.0 314.6,341.0 315.1,341.0 315.6,341.0 316.1,341.0 316.6,341.0 317.1,341.0 317.6,341.0 318.1,341.0 318.6,341.0 319.1,341.0 319.6,341.0 320.1,341.0 320.6,341.0 321.1,341.0 321.6,341.0 322.1,341.0 322.6,341.0 323.1,341.0 323.6,341.0 324.1,341.0 324.6,341.0 325.1,341.0 325.6,341.0 326.1,341.0 326.6,341.0 327.1,341.0 327.6,341.0 328.1,341.0 328.6,341.0 329.1,341.0 329.6,341.0 330.1,341.0 330.6,341.0 331.1,341.0 331.6,341.0 332.1,341.0 332.6,341.0 333.1,341.0 333.6,341.0 334.1,341.0 334.6,341.0 335.1,341.0 335.6,341.0 336.1,341.0 336.6,341.0 337.1,341.0 337.6,341.0 338.1,341.0 338.6,341.0 339.1,341.0 339.6,341.0 340.1,341.0 340.6,341.0 341.1,341.0 341.6,341.0 342.1,341.0 342.6,341.0 343.1,341.0 343.6,341.0 344.1,341.0 344.6,341.0 345.1,341.0 345.6,341.0 346.1,341.0 346.6,341.0 347.1,341.0 347.6,341.0 348.1,341.0 348.6,341.0 349.1,341.0 349.6,341.0 350.1,341.0 350.6,341.0 351.1,341.0 351.6,341.0 352.1,341.0 352.6,340.9 353.1,340.9 353.6,340.9 354.1,340.9 354.6,340.9 355.1,340.9 355.6,340.9 356.1,340.9 356.6,340.9 357.1,340.9 357.6,340.9 358.1,340.9 358.6,340.9 359.1,340.9 359.6,340.9 360.1,340.9 360.6,340.9 361.1,340.9 361.6,340.9 362.1,340.9 362.6,340.9 363.1,340.9 363.6,340.9 364.1,340.9 364.6,340.9 365.1,340.9 365.6,340.9 366.1,340.9 366.6,340.9 367.1,340.9 367.6,340.9 368.1,340.9 368.6,340.9 369.1,340.9 369.6,340.9 370.1,340.9 370.6,340.9 371.1,340.9 371.6,340.9 372.1,340.9 372.6,340.9 373.1,340.9 373.6,340.9 374.1,340.9 374.6,340.9 375.1,340.9 375.6,340.9 376.1,340.9 376.6,340.9 377.1,340.9 377.6,340.9 378.1,340.9 378.6,340.8 379.1,340.8 379.6,340.8 380.1,340.8 380.6,340.8 381.1,340.7 381.6,340.7 382.1,340.6 382.6,340.6 383.1,340.5 383.6,340.4 384.1,340.3 384.6,340.3 385.1,340.2 385.6,340.2 386.1,340.2 386.6,340.2 387.1,340.3 387.6,340.3 388.1,340.4 388.6,340.5 389.1,340.5 389.6,340.6 390.1,340.6 390.6,340.6 391.1,340.7 391.6,340.7 392.1,340.7 392.6,340.7 393.1,340.7 393.6,340.7 394.1,340.7 394.6,340.7 395.1,340.7 395.6,340.7 396.1,340.7 396.6,340.7 397.1,340.7 397.6,340.7 398.1,340.7 398.6,340.7 399.1,340.7 399.6,340.7 400.1,340.7 400.6,340.6 401.1,340.6 401.6,340.6 402.1,340.6 402.6,340.6 403.1,340.6 403.6,340.6 404.1,340.6 404.6,340.6 405.1,340.6 405.6,340.5 406.1,340.4 406.6,340.3 407.1,340.2 407.6,340.1 408.1,340.0 408.6,339.9 409.1,339.8 409.6,339.7 410.1,339.6 410.6,339.5 411.1,339.4 411.6,339.3 412.1,339.3 412.6,339.2 413.1,339.1 413.6,339.0 414.1,338.9 414.6,338.8 415.1,338.7 415.6,338.6 416.1,338.5 416.6,338.5 417.1,338.5 417.6,338.5 418.1,338.5 418.6,338.5 419.1,338.5 419.6,338.5 420.1,338.4 420.6,338.4 421.1,338.4 421.6,338.4 422.1,338.4 422.6,338.4 423.1,338.4 423.6,338.4 424.1,338.3 424.6,338.3 425.1,338.2 425.6,338.1 426.1,338.0 426.6,337.9 427.1,337.7 427.6,337.4 428.1,337.2 428.6,337.1 429.1,337.0 429.6,337.1 430.1,337.2 430.6,337.4 431.1,337.6 431.6,337.7 432.1,337.8 432.6,337.8 433.1,337.8 433.6,337.8 434.1,337.7 434.6,337.6 435.1,337.5 435.6,337.5 436.1,337.5 436.6,337.4 437.1,337.1 437.6,336.4 438.1,335.2 438.6,333.0 439.1,329.6 439.6,325.1 440.1,319.9 440.6,315.7 441.1,314.6 441.6,317.4 442.1,322.5 442.6,327.7 443.1,331.9 443.6,334.6 444.1,335.8 444.6,335.4 445.1,333.8 445.6,331.5 446.1,328.9 446.6,326.8 447.1,326.0 447.6,327.0 448.1,329.0 448.6,331.2 449.1,333.0 449.6,334.3 450.1,335.1 450.6,335.4 450.8,335.5 451.0,335.4 451.2,335.4 451.4,335.3 451.6,335.1 451.8,335.0 452.0,334.9 452.2,334.7 452.4,334.6 452.6,334.4 452.8,334.2 453.0,334.0 453.2,333.8 453.4,333.6 453.6,333.3 453.8,333.1 454.0,332.8 454.2,332.5 454.4,332.1 454.6,331.8 454.8,331.4 455.0,331.0 455.2,330.6 455.4,330.1 455.6,329.6 455.8,329.1 456.0,328.5 456.2,327.9 456.4,327.3 456.6,326.7 456.8,326.1 457.0,325.6 457.2,325.0 457.4,324.4 457.6,323.7 457.8,322.9 458.0,322.0 458.2,321.0 458.4,319.7 458.6,318.0 458.8,314.7 459.0,310.2 459.2,305.1 459.4,300.0 459.6,295.0 459.8,289.7 460.0,283.5 460.2,276.1 460.4,266.7 460.6,255.8 460.8,243.6 461.0,228.7 461.2,213.6 461.4,201.2 461.6,191.2 461.8,181.9 462.0,172.0 462.2,160.0 462.4,143.2 462.6,123.8 462.8,107.0 463.0,92.1 463.2,77.7 463.4,65.0 463.6,55.8 463.8,54.2 464.0,55.8 464.2,58.0 464.4,61.2 464.6,65.6 464.8,70.0 465.0,74.2 465.2,78.4 465.4,82.8 465.6,87.6 465.8,93.5 466.0,96.5 466.2,92.2 466.4,85.0 466.6,79.3 466.8,73.3 467.0,65.9 467.2,58.0 467.4,53.3 467.6,51.0 467.8,52.4 468.0,55.0 468.2,57.8 468.4,61.1 468.6,65.2 468.8,70.0 469.0,77.1 469.2,86.3 469.4,95.8 469.6,104.0 469.8,112.2 470.0,120.0 470.2,126.0 470.4,129.6 470.6,132.6 470.8,135.3 471.0,137.4 471.2,139.0 471.4,139.9 471.6,139.8 471.8,137.9 472.0,134.7 472.2,130.4 472.4,124.4 472.6,112.8 472.8,100.0 473.0,87.1 473.2,74.7 473.4,66.0 473.6,58.7 473.8,55.5 474.0,58.6 474.2,65.8 474.4,75.5 474.6,91.3 474.8,109.8 475.0,130.0 475.2,144.0 475.4,155.6 475.6,165.9 475.8,175.0 476.0,183.0 476.2,190.4 476.4,197.0 476.6,202.9 476.8,208.1 477.0,213.0 477.2,217.7 477.4,222.3 477.6,226.9 477.8,231.4 478.0,235.7 478.2,240.0 478.4,244.2 478.6,248.3 478.8,252.3 479.0,256.1 479.2,259.8 479.4,263.2 479.6,266.5 479.8,270.0 480.0,274.4 480.2,278.6 480.4,280.9 480.6,282.5 480.8,283.8 481.0,284.8 481.2,285.7 481.4,286.6 481.6,287.4 481.8,288.1 482.0,288.7 482.2,289.3 482.4,289.8 482.6,290.4 482.8,291.1 483.0,292.0 483.2,293.1 483.4,294.6 483.6,296.2 483.8,298.0 484.0,300.0 484.2,302.3 484.4,305.1 484.6,307.8 484.8,310.1 485.0,312.3 485.2,314.4 485.4,316.3 485.6,318.0 485.8,319.5 486.0,320.9 486.2,322.2 486.4,323.4 486.6,324.6 486.8,325.9 487.0,327.1 487.2,328.1 487.4,329.0 487.6,329.8 487.8,330.5 488.0,331.1 488.2,331.5 488.4,331.5 488.6,331.5 488.8,331.4 489.0,331.3 489.2,331.2 489.4,331.1 489.6,330.9 489.8,330.6 490.0,330.1 490.2,329.6 490.4,329.2 490.6,328.8 490.8,328.5 491.0,328.2 491.2,328.0 491.4,328.1 491.6,328.4 491.8,328.9 492.0,329.5 492.2,330.0 492.4,330.4 492.6,330.7 492.8,331.0 493.0,331.3 493.2,331.6 493.4,331.9 493.6,332.1 493.8,332.4 494.0,332.6 494.2,332.8 494.4,333.0 494.6,333.2 494.8,333.4 495.0,333.5 495.2,333.6 495.4,333.7 495.6,333.8 495.8,333.8 496.0,333.9 496.2,334.0 496.4,334.0 496.6,334.1 496.8,334.1 497.0,334.2 497.2,334.2 497.4,334.3 497.6,334.3 497.8,334.4 498.0,334.4 498.2,334.5 498.4,334.5 498.6,334.6 498.8,334.6 499.0,334.7 499.2,334.7 499.4,334.7 499.6,334.8 499.8,334.8 500.0,334.8 501.0,334.8 502.0,334.9 503.0,334.9 504.0,334.9 505.0,334.9 506.0,335.0 507.0,335.0 508.0,335.1 509.0,335.3 510.0,335.5 511.0,335.7 512.0,336.0 513.0,336.4 514.0,336.8 515.0,337.4 516.0,338.0 517.0,338.6 518.0,339.1 519.0,339.5 520.0,339.8 521.0,340.0 522.0,340.1 523.0,340.2 524.0,340.4 525.0,340.5 526.0,340.6 527.0,340.7 528.0,340.7 529.0,340.8 530.0,340.8 531.0,340.8 532.0,340.8 533.0,340.9 534.0,340.9 535.0,340.9 536.0,340.9 537.0,340.9 538.0,340.9 539.0,340.9 540.0,341.0 541.0,341.0 542.0,341.0 543.0,341.0 544.0,341.0 545.0,341.0 546.0,341.0 547.0,341.0 548.0,341.0 549.0,341.0 550.0,341.0 551.0,341.1 552.0,341.1 553.0,341.1 554.0,341.1 555.0,341.1 556.0,341.1 557.0,341.1 558.0,341.1 559.0,341.1 560.0,341.1 561.0,341.1 562.0,341.2 563.0,341.2 564.0,341.2 565.0,341.2 566.0,341.2 567.0,341.2 568.0,341.2" stroke="#1010ee"/>
<path d="M101.1,342.1 101.6,342.1 102.1,342.1 102.6,342.1 103.1,342.1 103.6,342.1 104.1,342.1 104.6,342.1 105.1,342.1 105.6,342.1 106.1,342.1 106.6,342.1 107.1,342.1 107.6,342.1 108.1,342.1 108.6,342.1 109.1,342.1 109.6,342.1 110.1,342.1 110.6,342.1 111.1,342.1 111.6,342.1 112.1,342.1 112.6,342.1 113.1,342.1 113.6,342.1 114.1,342.1 114.6,342.1 115.1,342.1 115.6,342.1 116.1,342.1 116.6,342.1 117.1,342.1 117.6,342.1 118.1,342.1 118.6,342.1 119.1,342.1 119.6,342.1 120.1,342.1 120.6,342.1 121.1,342.1 121.6,342.1 122.1,342.1 122.6,342.1 123.1,342.1 123.6,342.1 124.1,342.1 124.6,342.1 125.1,342.1 125.6,342.1 126.1,342.1 126.6,342.1 127.1,342.1 127.6,342.0 128.1,342.0 128.6,342.0 129.1,342.0 129.6,342.0 130.1,342.0 130.6,342.0 131.1,342.0 131.6,342.0 132.1,342.0 132.6,341.8 133.1,341.6 133.6,341.4 134.1,341.2 134.6,341.0 135.1,340.8 135.6,340.6 136.1,340.4 136.6,340.2 137.1,340.0 137.6,339.8 138.1,339.6 138.6,339.4 139.1,339.2 139.6,338.9 140.1,338.4 140.6,337.8 141.1,337.0 141.6,336.1 142.1,335.1 142.6,334.3 143.1,334.0 143.6,334.2 144.1,334.8 144.6,335.5 145.1,336.1 145.6,336.4 146.1,336.6 146.6,336.5 147.1,336.3 147.6,336.0 148.1,335.6 148.6,335.2 149.1,335.0 149.6,334.9 150.1,334.9 150.6,334.5 151.1,333.8 151.6,332.7 152.1,331.0 152.6,329.1 153.1,327.0 153.6,325.1 154.1,324.1 154.6,324.3 155.1,325.6 155.6,327.7 156.1,330.0 156.6,332.1 157.1,333.8 157.6,335.2 158.1,336.3 158.6,337.0 159.1,337.5 159.6,337.8 160.1,338.0 160.6,338.2 161.1,338.2 161.6,338.3 162.1,338.3 162.6,338.4 163.1,338.4 163.6,338.4 164.1,338.4 164.6,338.4 165.1,338.4 165.6,338.3 166.1,338.3 166.6,338.3 167.1,338.3 167.6,338.3 168.1,338.2 168.6,338.0 169.1,337.7 169.6,337.2 170.1,336.4 170.6,335.2 171.1,333.7 171.6,331.9 172.1,330.1 172.6,329.1 173.1,329.2 173.6,330.5 174.1,332.3 174.6,334.1 175.1,335.6 175.6,336.7 176.1,337.4 176.6,337.8 177.1,338.0 177.6,338.0 178.1,338.0 178.6,337.9 179.1,337.8 179.6,337.7 180.1,337.6 180.6,337.5 181.1,337.5 181.6,337.5 182.1,337.5 182.6,337.6 183.1,337.8 183.6,338.0 184.1,338.2 184.6,338.5 185.1,338.8 185.6,339.1 186.1,339.3 186.6,339.6 187.1,339.8 187.6,340.1 188.1,340.2 188.6,340.4 189.1,340.6 189.6,340.7 190.1,340.8 190.6,340.9 191.1,340.9 191.6,341.0 192.1,341.1 192.6,341.1 193.1,341.0 193.6,341.0 194.1,340.8 194.6,340.7 195.1,340.5 195.6,340.2 196.1,339.8 196.6,339.3 197.1,338.9 197.6,338.6 198.1,338.5 198.6,338.6 199.1,339.0 199.6,339.4 200.1,339.7 200.6,340.0 201.1,340.2 201.6,340.4 202.1,340.5 202.6,340.5 203.1,340.5 203.6,340.5 204.1,340.5 204.6,340.5 205.1,340.5 205.6,340.6 206.1,340.6 206.6,340.7 207.1,340.7 207.6,340.7 208.1,340.8 208.6,340.8 209.1,340.8 209.6,340.8 210.1,340.8 210.6,340.8 211.1,340.8 211.6,340.8 212.1,340.8 212.6,340.7 213.1,340.6 213.6,340.5 214.1,340.5 214.6,340.4 215.1,340.3 215.6,340.1 216.1,340.0 216.6,339.9 217.1,339.8 217.6,339.7 218.1,339.6 218.6,339.5 219.1,339.4 219.6,339.3 220.1,339.2 220.6,339.1 221.1,339.1 221.6,339.0 222.1,339.0 222.6,339.0 223.1,339.0 223.6,339.0 224.1,339.0 224.6,339.1 225.1,339.1 225.6,339.2 226.1,339.3 226.6,339.4 227.1,339.4 227.6,339.5 228.1,339.6 228.6,339.7 229.1,339.7 229.6,339.8 230.1,339.9 230.6,339.9 231.1,339.9 231.6,339.9 232.1,339.9 232.6,339.9 233.1,339.8 233.6,339.6 234.1,339.5 234.6,339.2 235.1,339.0 235.6,338.6 236.1,338.3 236.6,337.8 237.1,337.3 237.6,336.8 238.1,336.2 238.6,335.5 239.1,334.8 239.6,334.0 240.1,333.2 240.6,332.3 241.1,331.5 241.6,330.6 242.1,329.8 242.6,329.0 243.1,328.3 243.6,327.8 244.1,327.3 244.6,327.1 245.1,327.0 245.6,327.1 246.1,327.4 246.6,327.8 247.1,328.4 247.6,329.1 248.1,329.9 248.6,330.6 249.1,331.5 249.6,332.3 250.1,333.1 250.6,333.8 251.1,334.5 251.6,335.2 252.1,335.8 252.6,336.3 253.1,336.7 253.6,337.0 254.1,337.3 254.6,337.4 255.1,337.5 255.6,337.5 256.1,337.5 256.6,337.4 257.1,337.4 257.6,337.5 258.1,337.7 258.6,338.0 259.1,338.3 259.6,338.6 260.1,338.9 260.6,339.1 261.1,339.3 261.6,339.5 262.1,339.6 262.6,339.8 263.1,339.9 263.6,340.0 264.1,340.1 264.6,340.2 265.1,340.2 265.6,340.3 266.1,340.4 266.6,340.4 267.1,340.5 267.6,340.5 268.1,340.6 268.6,340.7 269.1,340.7 269.6,340.8 270.1,340.8 270.6,340.8 271.1,340.9 271.6,340.9 272.1,340.9 272.6,340.9 273.1,341.0 273.6,341.0 274.1,341.0 274.6,341.0 275.1,341.0 275.6,341.1 276.1,341.1 276.6,341.1 277.1,341.1 277.6,341.2 278.1,341.2 278.6,341.2 279.1,341.2 279.6,341.2 280.1,341.3 280.6,341.3 281.1,341.3 281.6,341.3 282.1,341.3 282.6,341.3 283.1,341.4 283.6,341.4 284.1,341.4 284.6,341.4 285.1,341.4 285.6,341.5 286.1,341.5 286.6,341.5 287.1,341.5 287.6,341.5 288.1,341.5 288.6,341.6 289.1,341.6 289.6,341.6 290.1,341.6 290.6,341.6 291.1,341.6 291.6,341.6 292.1,341.6 292.6,341.6 293.1,341.6 293.6,341.6 294.1,341.6 294.6,341.6 295.1,341.6 295.6,341.6 296.1,341.6 296.6,341.6 297.1,341.6 297.6,341.7 298.1,341.7 298.6,341.7 299.1,341.7 299.6,341.7 300.1,341.7 300.6,341.7 301.1,341.7 301.6,341.7 302.1,341.7 302.6,341.7 303.1,341.7 303.6,341.7 304.1,341.7 304.6,341.7 305.1,341.7 305.6,341.7 306.1,341.7 306.6,341.7 307.1,341.7 307.6,341.7 308.1,341.7 308.6,341.7 309.1,341.7 309.6,341.7 310.1,341.7 310.6,341.7 311.1,341.7 311.6,341.7 312.1,341.7 312.6,341.7 313.1,341.7 313.6,341.7 314.1,341.7 314.6,341.7 315.1,341.7 315.6,341.7 316.1,341.7 316.6,341.7 317.1,341.7 317.6,341.8 318.1,341.8 318.6,341.8 319.1,341.8 319.6,341.8 320.1,341.8 320.6,341.8 321.1,341.8 321.6,341.8 322.1,341.8 322.6,341.8 323.1,341.8 323.6,341.8 324.1,341.8 324.6,341.8 325.1,341.8 325.6,341.8 326.1,341.8 326.6,341.8 327.1,341.8 327.6,341.8 328.1,341.8 328.6,341.8 329.1,341.8 329.6,341.8 330.1,341.8 330.6,341.8 331.1,341.8 331.6,341.8 332.1,341.8 332.6,341.8 333.1,341.8 333.6,341.8 334.1,341.8 334.6,341.8 335.1,341.8 335.6,341.8 336.1,341.8 336.6,341.8 337.1,341.8 337.6,341.8 338.1,341.8 338.6,341.8 339.1,341.8 339.6,341.8 340.1,341.8 340.6,341.8 341.1,341.8 341.6,341.8 342.1,341.8 342.6,341.8 343.1,341.8 343.6,341.8 344.1,341.8 344.6,341.8 345.1,341.8 345.6,341.8 346.1,341.8 346.6,341.8 347.1,341.8 347.6,341.8 348.1,341.8 348.6,341.8 349.1,341.8 349.6,341.8 350.1,341.8 350.6,341.8 351.1,341.8 351.6,341.7 352.1,341.7 352.6,341.7 353.1,341.7 353.6,341.7 354.1,341.7 354.6,341.7 355.1,341.7 355.6,341.7 356.1,341.7 356.6,341.7 357.1,341.7 357.6,341.7 358.1,341.7 358.6,341.7 359.1,341.7 359.6,341.7 360.1,341.7 360.6,341.7 361.1,341.7 361.6,341.7 362.1,341.7 362.6,341.7 363.1,341.7 363.6,341.7 364.1,341.7 364.6,341.7 365.1,341.7 365.6,341.7 366.1,341.7 366.6,341.7 367.1,341.7 367.6,341.7 368.1,341.7 368.6,341.7 369.1,341.7 369.6,341.7 370.1,341.7 370.6,341.7 371.1,341.7 371.6,341.7 372.1,341.7 372.6,341.7 373.1,341.7 373.6,341.7 374.1,341.7 374.6,341.7 375.1,341.7 375.6,341.7 376.1,341.7 376.6,341.7 377.1,341.7 377.6,341.7 378.1,341.7 378.6,341.6 379.1,341.6 379.6,341.6 380.1,341.6 380.6,341.6 381.1,341.5 381.6,341.5 382.1,341.4 382.6,341.4 383.1,341.3 383.6,341.2 384.1,341.1 384.6,341.1 385.1,341.0 385.6,341.0 386.1,341.0 386.6,341.0 387.1,341.1 387.6,341.1 388.1,341.2 388.6,341.3 389.1,341.3 389.6,341.4 390.1,341.4 390.6,341.4 391.1,341.5 391.6,341.5 392.1,341.5 392.6,341.5 393.1,341.5 393.6,341.5 394.1,341.5 394.6,341.5 395.1,341.5 395.6,341.5 396.1,341.5 396.6,341.5 397.1,341.5 397.6,341.5 398.1,341.5 398.6,341.5 399.1,341.5 399.6,341.5 400.1,341.5 400.6,341.4 401.1,341.4 401.6,341.4 402.1,341.4 402.6,341.4 403.1,341.4 403.6,341.4 404.1,341.4 404.6,341.4 405.1,341.4 405.6,341.3 406.1,341.3 406.6,341.2 407.1,341.1 407.6,341.1 408.1,341.0 408.6,340.9 409.1,340.9 409.6,340.8 410.1,340.8 410.6,340.7 411.1,340.6 411.6,340.6 412.1,340.5 412.6,340.4 413.1,340.4 413.6,340.3 414.1,340.2 414.6,340.2 415.1,340.1 415.6,340.1 416.1,340.0 416.6,340.0 417.1,340.0 417.6,340.0 418.1,339.9 418.6,339.9 419.1,339.9 419.6,339.9 420.1,339.9 420.6,339.9 421.1,339.9 421.6,339.8 422.1,339.8 422.6,339.8 423.1,339.8 423.6,339.8 424.1,339.7 424.6,339.7 425.1,339.6 425.6,339.6 426.1,339.5 426.6,339.4 427.1,339.2 427.6,339.0 428.1,338.9 428.6,338.7 429.1,338.7 429.6,338.7 430.1,338.9 430.6,339.0 431.1,339.1 431.6,339.2 432.1,339.3 432.6,339.3 433.1,339.3 433.6,339.3 434.1,339.3 434.6,339.2 435.1,339.2 435.6,339.1 436.1,339.1 436.6,338.9 437.1,338.8 437.6,338.5 438.1,337.9 438.6,337.1 439.1,335.8 439.6,334.0 440.1,332.1 440.6,330.5 441.1,330.0 441.6,331.0 442.1,332.7 442.6,334.5 443.1,336.0 443.6,336.9 444.1,337.2 444.6,336.9 445.1,336.3 445.6,335.3 446.1,334.2 446.6,333.3 447.1,333.0 447.6,333.4 448.1,334.3 448.6,335.2 449.1,336.0 449.6,336.5 450.1,336.8 450.6,337.0 450.8,337.0 451.0,337.0 451.2,337.0 451.4,336.9 451.6,336.9 451.8,336.8 452.0,336.7 452.2,336.6 452.4,336.5 452.6,336.5 452.8,336.3 453.0,336.2 453.2,336.0 453.4,335.8 453.6,335.6 453.8,335.4 454.0,335.2 454.2,335.0 454.4,334.7 454.6,334.5 454.8,334.3 455.0,334.0 455.2,333.7 455.4,333.4 455.6,333.1 455.8,332.8 456.0,332.5 456.2,332.1 456.4,331.7 456.6,331.3 456.8,330.9 457.0,330.4 457.2,330.0 457.4,329.5 457.6,328.9 457.8,328.3 458.0,327.6 458.2,326.8 458.4,326.0 458.6,325.0 458.8,323.6 459.0,321.8 459.2,319.8 459.4,317.3 459.6,314.6 459.8,311.6 460.0,308.2 460.2,303.5 460.4,297.8 460.6,291.5 460.8,285.0 461.0,278.0 461.2,270.4 461.4,262.5 461.6,255.0 461.8,247.8 462.0,240.6 462.2,233.9 462.4,228.0 462.6,222.7 462.8,217.9 463.0,213.6 463.2,210.0 463.4,206.9 463.6,203.9 463.8,201.3 464.0,199.3 464.2,198.0 464.4,197.2 464.6,196.6 464.8,196.2 465.0,196.0 465.2,196.6 465.4,198.0 465.6,199.4 465.8,200.0 466.0,199.4 466.2,198.1 466.4,196.4 466.6,195.0 466.8,193.8 467.0,192.4 467.2,191.2 467.4,190.3 467.6,190.0 467.8,190.6 468.0,192.2 468.2,194.6 468.4,197.2 468.6,200.0 468.8,203.2 469.0,207.3 469.2,211.9 469.4,216.6 469.6,221.1 469.8,225.0 470.0,228.8 470.2,232.8 470.4,236.4 470.6,239.0 470.8,240.0 471.0,238.3 471.2,233.8 471.4,227.7 471.6,221.1 471.8,215.0 472.0,209.0 472.2,202.4 472.4,195.8 472.6,189.8 472.8,185.0 473.0,180.9 473.2,176.8 473.4,173.4 473.6,170.9 473.8,170.0 474.0,170.7 474.2,172.4 474.4,175.1 474.6,178.4 474.8,182.0 475.0,187.4 475.2,195.2 475.4,203.9 475.6,212.0 475.8,219.4 476.0,226.7 476.2,233.7 476.4,240.0 476.6,245.6 476.8,250.8 477.0,255.6 477.2,260.0 477.4,263.9 477.6,267.6 477.8,271.1 478.0,274.3 478.2,277.3 478.4,280.0 478.6,282.6 478.8,285.0 479.0,287.2 479.2,289.3 479.4,291.3 479.6,293.0 479.8,294.6 480.0,296.0 480.2,297.4 480.4,298.6 480.6,299.8 480.8,300.9 481.0,302.0 481.2,303.0 481.4,303.9 481.6,304.7 481.8,305.5 482.0,306.3 482.2,307.1 482.4,308.0 482.6,308.9 482.8,309.9 483.0,310.9 483.2,311.9 483.4,312.9 483.6,314.0 483.8,315.2 484.0,316.5 484.2,317.8 484.4,319.1 484.6,320.4 484.8,321.6 485.0,322.8 485.2,323.9 485.4,325.0 485.6,326.1 485.8,327.0 486.0,327.9 486.2,328.8 486.4,329.6 486.6,330.4 486.8,331.0 487.0,331.5 487.2,331.9 487.4,332.3 487.6,332.7 487.8,333.0 488.0,333.3 488.2,333.4 488.4,333.5 488.6,333.4 488.8,333.3 489.0,333.1 489.2,332.8 489.4,332.5 489.6,332.3 489.8,332.0 490.0,331.7 490.2,331.4 490.4,331.0 490.6,330.6 490.8,330.3 491.0,330.1 491.2,330.0 491.4,330.1 491.6,330.3 491.8,330.6 492.0,330.9 492.2,331.2 492.4,331.5 492.6,331.8 492.8,332.0 493.0,332.3 493.2,332.6 493.4,332.9 493.6,333.1 493.8,333.3 494.0,333.5 494.2,333.6 494.4,333.8 494.6,333.9 494.8,334.0 495.0,334.1 495.2,334.3 495.4,334.4 495.6,334.4 495.8,334.5 496.0,334.6 496.2,334.7 496.4,334.8 496.6,334.9 496.8,334.9 497.0,335.0 497.2,335.1 497.4,335.1 497.6,335.2 497.8,335.3 498.0,335.3 498.2,335.4 498.4,335.5 498.6,335.5 498.8,335.6 499.0,335.6 499.2,335.7 499.4,335.7 499.6,335.7 499.8,335.8 500.0,335.8 501.0,335.9 502.0,335.9 503.0,336.0 504.0,336.0 505.0,336.1 506.0,336.1 507.0,336.2 508.0,336.3 509.0,336.4 510.0,336.6 511.0,336.8 512.0,337.0 513.0,337.3 514.0,337.7 515.0,338.2 516.0,338.8 517.0,339.3 518.0,339.8 519.0,340.2 520.0,340.4 521.0,340.6 522.0,340.7 523.0,340.8 524.0,341.0 525.0,341.1 526.0,341.2 527.0,341.3 528.0,341.3 529.0,341.4 530.0,341.4 531.0,341.4 532.0,341.4 533.0,341.5 534.0,341.5 535.0,341.5 536.0,341.5 537.0,341.5 538.0,341.5 539.0,341.5 540.0,341.6 541.0,341.6 542.0,341.6 543.0,341.6 544.0,341.6 545.0,341.6 546.0,341.6 547.0,341.6 548.0,341.6 549.0,341.6 550.0,341.6 551.0,341.7 552.0,341.7 553.0,341.7 554.0,341.7 555.0,341.7 556.0,341.7 557.0,341.7 558.0,341.7 559.0,341.7 560.0,341.7 561.0,341.7 562.0,341.8 563.0,341.8 564.0,341.8 565.0,341.8 566.0,341.8 567.0,341.8 568.0,341.8" stroke="#2a7f7d"/>
<path d="M101.1,342.7 101.6,342.7 102.1,342.7 102.6,342.7 103.1,342.7 103.6,342.7 104.1,342.7 104.6,342.7 105.1,342.7 105.6,342.7 106.1,342.7 106.6,342.7 107.1,342.7 107.6,342.7 108.1,342.7 108.6,342.7 109.1,342.7 109.6,342.7 110.1,342.7 110.6,342.7 111.1,342.7 111.6,342.7 112.1,342.7 112.6,342.7 113.1,342.7 113.6,342.7 114.1,342.7 114.6,342.7 115.1,342.7 115.6,342.7 116.1,342.7 116.6,342.7 117.1,342.7 117.6,342.7 118.1,342.7 118.6,342.7 119.1,342.7 119.6,342.7 120.1,342.7 120.6,342.7 121.1,342.7 121.6,342.7 122.1,342.7 122.6,342.7 123.1,342.7 123.6,342.7 124.1,342.7 124.6,342.7 125.1,342.7 125.6,342.7 126.1,342.7 126.6,342.6 127.1,342.6 127.6,342.6 128.1,342.6 128.6,342.6 129.1,342.6 129.6,342.6 130.1,342.6 130.6,342.6 131.1,342.6 131.6,342.6 132.1,342.6 132.6,342.4 133.1,342.2 133.6,341.9 134.1,341.7 134.6,341.5 135.1,341.3 135.6,341.1 136.1,340.9 136.6,340.7 137.1,340.5 137.6,340.3 138.1,340.1 138.6,339.9 139.1,339.7 139.6,339.3 140.1,338.9 140.6,338.3 141.1,337.5 141.6,336.6 142.1,335.6 142.6,334.8 143.1,334.5 143.6,334.7 144.1,335.3 144.6,336.0 145.1,336.6 145.6,336.9 146.1,337.0 146.6,336.8 147.1,336.4 147.6,335.9 148.1,335.3 148.6,334.7 149.1,334.5 149.6,334.9 150.1,335.5 150.6,336.1 151.1,336.5 151.6,336.7 152.1,336.6 152.6,336.3 153.1,336.0 153.6,335.7 154.1,335.5 154.6,335.6 155.1,335.9 155.6,336.3 156.1,336.8 156.6,337.3 157.1,337.6 157.6,337.9 158.1,338.2 158.6,338.3 159.1,338.4 159.6,338.5 160.1,338.6 160.6,338.7 161.1,338.8 161.6,338.9 162.1,338.9 162.6,339.0 163.1,339.0 163.6,339.0 164.1,339.1 164.6,339.1 165.1,339.1 165.6,339.0 166.1,339.0 166.6,339.0 167.1,338.9 167.6,338.7 168.1,338.4 168.6,337.9 169.1,336.9 169.6,335.4 170.1,332.9 170.6,329.2 171.1,324.4 171.6,318.8 172.1,313.5 172.6,310.3 173.1,310.8 173.6,314.7 174.1,320.4 174.6,326.0 175.1,330.7 175.6,334.2 176.1,336.5 176.6,338.0 177.1,338.8 177.6,339.1 178.1,339.1 178.6,339.0 179.1,338.9 179.6,338.6 180.1,338.4 180.6,338.2 181.1,338.1 181.6,338.0 182.1,338.0 182.6,338.1 183.1,338.3 183.6,338.5 184.1,338.8 184.6,339.1 185.1,339.5 185.6,339.8 186.1,340.1 186.6,340.4 187.1,340.7 187.6,340.9 188.1,341.1 188.6,341.3 189.1,341.4 189.6,341.5 190.1,341.6 190.6,341.6 191.1,341.6 191.6,341.6 192.1,341.6 192.6,341.6 193.1,341.6 193.6,341.5 194.1,341.5 194.6,341.4 195.1,341.2 195.6,341.0 196.1,340.8 196.6,340.5 197.1,340.3 197.6,340.1 198.1,340.0 198.6,340.1 199.1,340.3 199.6,340.6 200.1,340.8 200.6,341.0 201.1,341.1 201.6,341.2 202.1,341.3 202.6,341.3 203.1,341.3 203.6,341.3 204.1,341.3 204.6,341.3 205.1,341.3 205.6,341.4 206.1,341.4 206.6,341.4 207.1,341.5 207.6,341.5 208.1,341.5 208.6,341.5 209.1,341.6 209.6,341.6 210.1,341.6 210.6,341.6 211.1,341.5 211.6,341.5 212.1,341.5 212.6,341.4 213.1,341.3 213.6,341.2 214.1,341.1 214.6,341.0 215.1,340.9 215.6,340.8 216.1,340.6 216.6,340.5 217.1,340.4 217.6,340.3 218.1,340.1 218.6,340.0 219.1,339.9 219.6,339.8 220.1,339.7 220.6,339.6 221.1,339.6 221.6,339.5 222.1,339.5 222.6,339.5 223.1,339.5 223.6,339.5 224.1,339.6 224.6,339.6 225.1,339.7 225.6,339.8 226.1,339.9 226.6,340.0 227.1,340.1 227.6,340.2 228.1,340.3 228.6,340.4 229.1,340.5 229.6,340.6 230.1,340.7 230.6,340.8 231.1,340.8 231.6,340.8 232.1,340.8 232.6,340.8 233.1,340.8 233.6,340.7 234.1,340.5 234.6,340.3 235.1,340.1 235.6,339.8 236.1,339.5 236.6,339.1 237.1,338.6 237.6,338.1 238.1,337.6 238.6,337.0 239.1,336.3 239.6,335.6 240.1,334.9 240.6,334.1 241.1,333.4 241.6,332.6 242.1,331.8 242.6,331.2 243.1,330.5 243.6,330.0 244.1,329.6 244.6,329.4 245.1,329.3 245.6,329.4 246.1,329.6 246.6,330.0 247.1,330.5 247.6,331.1 248.1,331.7 248.6,332.4 249.1,333.1 249.6,333.8 250.1,334.5 250.6,335.2 251.1,335.8 251.6,336.4 252.1,336.9 252.6,337.3 253.1,337.7 253.6,338.0 254.1,338.2 254.6,338.4 255.1,338.4 255.6,338.5 256.1,338.4 256.6,338.4 257.1,338.4 257.6,338.5 258.1,338.7 258.6,338.8 259.1,339.1 259.6,339.3 260.1,339.5 260.6,339.7 261.1,339.8 261.6,339.9 262.1,340.0 262.6,340.2 263.1,340.3 263.6,340.4 264.1,340.5 264.6,340.6 265.1,340.6 265.6,340.7 266.1,340.8 266.6,340.9 267.1,340.9 267.6,341.0 268.1,341.1 268.6,341.1 269.1,341.2 269.6,341.2 270.1,341.3 270.6,341.3 271.1,341.4 271.6,341.4 272.1,341.4 272.6,341.4 273.1,341.4 273.6,341.5 274.1,341.5 274.6,341.5 275.1,341.5 275.6,341.5 276.1,341.6 276.6,341.6 277.1,341.6 277.6,341.6 278.1,341.6 278.6,341.6 279.1,341.7 279.6,341.7 280.1,341.7 280.6,341.7 281.1,341.7 281.6,341.7 282.1,341.8 282.6,341.8 283.1,341.8 283.6,341.8 284.1,341.8 284.6,341.8 285.1,341.9 285.6,341.9 286.1,341.9 286.6,341.9 287.1,341.9 287.6,341.9 288.1,341.9 288.6,342.0 289.1,342.0 289.6,342.0 290.1,342.0 290.6,342.0 291.1,342.0 291.6,342.0 292.1,342.0 292.6,342.0 293.1,342.0 293.6,342.0 294.1,342.0 294.6,342.1 295.1,342.1 295.6,342.1 296.1,342.1 296.6,342.1 297.1,342.1 297.6,342.1 298.1,342.1 298.6,342.1 299.1,342.1 299.6,342.1 300.1,342.1 300.6,342.1 301.1,342.1 301.6,342.1 302.1,342.1 302.6,342.1 303.1,342.1 303.6,342.2 304.1,342.2 304.6,342.2 305.1,342.2 305.6,342.2 306.1,342.2 306.6,342.2 307.1,342.2 307.6,342.2 308.1,342.2 308.6,342.2 309.1,342.2 309.6,342.2 310.1,342.2 310.6,342.2 311.1,342.2 311.6,342.2 312.1,342.2 312.6,342.2 313.1,342.2 313.6,342.2 314.1,342.3 314.6,342.3 315.1,342.3 315.6,342.3 316.1,342.3 316.6,342.3 317.1,342.3 317.6,342.3 318.1,342.3 318.6,342.3 319.1,342.3 319.6,342.3 320.1,342.3 320.6,342.3 321.1,342.3 321.6,342.3 322.1,342.3 322.6,342.3 323.1,342.3 323.6,342.3 324.1,342.3 324.6,342.4 325.1,342.4 325.6,342.4 326.1,342.4 326.6,342.4 327.1,342.4 327.6,342.4 328.1,342.4 328.6,342.4 329.1,342.4 329.6,342.4 330.1,342.4 330.6,342.4 331.1,342.4 331.6,342.4 332.1,342.4 332.6,342.4 333.1,342.4 333.6,342.4 334.1,342.4 334.6,342.4 335.1,342.4 335.6,342.4 336.1,342.4 336.6,342.4 337.1,342.4 337.6,342.4 338.1,342.4 338.6,342.4 339.1,342.4 339.6,342.4 340.1,342.4 340.6,342.4 341.1,342.4 341.6,342.4 342.1,342.4 342.6,342.4 343.1,342.4 343.6,342.4 344.1,342.4 344.6,342.4 345.1,342.4 345.6,342.4 346.1,342.4 346.6,342.4 347.1,342.4 347.6,342.4 348.1,342.4 348.6,342.4 349.1,342.4 349.6,342.4 350.1,342.4 350.6,342.4 351.1,342.4 351.6,342.4 352.1,342.4 352.6,342.4 353.1,342.4 353.6,342.3 354.1,342.3 354.6,342.3 355.1,342.3 355.6,342.3 356.1,342.3 356.6,342.3 357.1,342.3 357.6,342.3 358.1,342.3 358.6,342.3 359.1,342.3 359.6,342.3 360.1,342.3 360.6,342.3 361.1,342.3 361.6,342.3 362.1,342.3 362.6,342.3 363.1,342.3 363.6,342.3 364.1,342.3 364.6,342.3 365.1,342.3 365.6,342.3 366.1,342.3 366.6,342.3 367.1,342.3 367.6,342.3 368.1,342.3 368.6,342.3 369.1,342.3 369.6,342.3 370.1,342.3 370.6,342.3 371.1,342.3 371.6,342.3 372.1,342.3 372.6,342.3 373.1,342.3 373.6,342.3 374.1,342.3 374.6,342.3 375.1,342.3 375.6,342.3 376.1,342.3 376.6,342.3 377.1,342.3 377.6,342.3 378.1,342.3 378.6,342.2 379.1,342.2 379.6,342.2 380.1,342.2 380.6,342.2 381.1,342.1 381.6,342.1 382.1,342.0 382.6,341.9 383.1,341.8 383.6,341.7 384.1,341.7 384.6,341.6 385.1,341.5 385.6,341.5 386.1,341.5 386.6,341.5 387.1,341.6 387.6,341.7 388.1,341.7 388.6,341.8 389.1,341.9 389.6,341.9 390.1,342.0 390.6,342.0 391.1,342.1 391.6,342.1 392.1,342.1 392.6,342.1 393.1,342.1 393.6,342.1 394.1,342.1 394.6,342.1 395.1,342.1 395.6,342.1 396.1,342.1 396.6,342.1 397.1,342.1 397.6,342.1 398.1,342.1 398.6,342.1 399.1,342.1 399.6,342.1 400.1,342.1 400.6,342.0 401.1,342.0 401.6,342.0 402.1,342.0 402.6,342.0 403.1,342.0 403.6,342.0 404.1,342.0 404.6,342.0 405.1,342.0 405.6,341.9 406.1,341.9 406.6,341.9 407.1,341.8 407.6,341.8 408.1,341.7 408.6,341.7 409.1,341.6 409.6,341.6 410.1,341.5 410.6,341.5 411.1,341.4 411.6,341.4 412.1,341.4 412.6,341.3 413.1,341.3 413.6,341.2 414.1,341.2 414.6,341.1 415.1,341.1 415.6,341.0 416.1,341.0 416.6,341.0 417.1,341.0 417.6,340.9 418.1,340.9 418.6,340.9 419.1,340.9 419.6,340.9 420.1,340.9 420.6,340.8 421.1,340.8 421.6,340.8 422.1,340.8 422.6,340.7 423.1,340.7 423.6,340.7 424.1,340.7 424.6,340.6 425.1,340.6 425.6,340.5 426.1,340.4 426.6,340.2 427.1,340.1 427.6,339.9 428.1,339.7 428.6,339.6 429.1,339.5 429.6,339.5 430.1,339.7 430.6,339.8 431.1,339.9 431.6,340.0 432.1,340.1 432.6,340.1 433.1,340.1 433.6,340.1 434.1,340.1 434.6,340.1 435.1,340.0 435.6,339.9 436.1,339.8 436.6,339.7 437.1,339.4 437.6,339.1 438.1,338.4 438.6,337.3 439.1,335.7 439.6,333.5 440.1,331.1 440.6,329.1 441.1,328.5 441.6,329.7 442.1,332.0 442.6,334.3 443.1,336.2 443.6,337.4 444.1,338.1 444.6,338.1 445.1,337.7 445.6,337.1 446.1,336.4 446.6,335.7 447.1,335.5 447.6,335.7 448.1,336.2 448.6,336.7 449.1,337.1 449.6,337.4 450.1,337.5 450.6,337.5 450.8,337.5 451.0,337.5 451.2,337.4 451.4,337.4 451.6,337.3 451.8,337.3 452.0,337.2 452.2,337.1 452.4,337.0 452.6,337.0 452.8,336.9 453.0,336.7 453.2,336.6 453.4,336.4 453.6,336.3 453.8,336.1 454.0,335.9 454.2,335.7 454.4,335.5 454.6,335.3 454.8,335.1 455.0,334.9 455.2,334.6 455.4,334.3 455.6,334.1 455.8,333.8 456.0,333.4 456.2,333.1 456.4,332.7 456.6,332.3 456.8,331.9 457.0,331.4 457.2,330.9 457.4,330.3 457.6,329.7 457.8,329.0 458.0,328.2 458.2,327.4 458.4,326.5 458.6,325.5 458.8,324.3 459.0,322.8 459.2,321.2 459.4,319.2 459.6,317.1 459.8,314.7 460.0,312.0 460.2,308.5 460.4,304.0 460.6,298.7 460.8,292.9 461.0,287.0 461.2,280.4 461.4,273.0 461.6,265.0 461.8,255.7 462.0,245.2 462.2,234.8 462.4,225.4 462.6,216.3 462.8,207.8 463.0,200.0 463.2,193.0 463.4,186.4 463.6,180.4 463.8,175.0 464.0,170.1 464.2,165.7 464.4,161.8 464.6,158.2 464.8,154.7 465.0,153.0 465.2,154.8 465.4,158.2 465.6,160.0 465.8,158.7 466.0,155.6 466.2,151.8 466.4,148.1 466.6,143.3 466.8,138.0 467.0,133.0 467.2,129.2 467.4,127.1 467.6,125.5 467.8,124.2 468.0,123.3 468.2,123.0 468.4,124.3 468.6,127.8 468.8,132.5 469.0,138.2 469.2,147.4 469.4,158.7 469.6,170.0 469.8,181.5 470.0,193.6 470.2,205.0 470.4,215.0 470.6,225.6 470.8,234.4 471.0,238.0 471.2,236.5 471.4,232.7 471.6,227.5 471.8,222.0 472.0,215.4 472.2,207.1 472.4,198.2 472.6,190.0 472.8,182.1 473.0,174.1 473.2,167.5 473.4,162.9 473.6,158.9 473.8,156.4 474.0,156.4 474.2,159.0 474.4,163.2 474.6,168.0 474.8,174.1 475.0,182.1 475.2,190.8 475.4,199.2 475.6,208.1 475.8,217.0 476.0,225.0 476.2,232.0 476.4,238.5 476.6,244.5 476.8,250.0 477.0,255.0 477.2,259.8 477.4,264.2 477.6,268.2 477.8,272.0 478.0,275.5 478.2,278.8 478.4,282.0 478.6,284.9 478.8,287.6 479.0,290.0 479.2,292.2 479.4,294.3 479.6,296.2 479.8,298.0 480.0,299.7 480.2,301.3 480.4,302.7 480.6,304.0 480.8,305.2 481.0,306.4 481.2,307.5 481.4,308.5 481.6,309.5 481.8,310.4 482.0,311.3 482.2,312.1 482.4,313.0 482.6,313.9 482.8,314.8 483.0,315.7 483.2,316.6 483.4,317.5 483.6,318.5 483.8,319.5 484.0,320.5 484.2,321.5 484.4,322.5 484.6,323.5 484.8,324.6 485.0,325.6 485.2,326.6 485.4,327.6 485.6,328.4 485.8,329.3 486.0,330.1 486.2,330.8 486.4,331.5 486.6,332.1 486.8,332.5 487.0,332.8 487.2,333.1 487.4,333.4 487.6,333.7 487.8,333.8 488.0,334.0 488.2,334.0 488.4,333.9 488.6,333.8 488.8,333.6 489.0,333.3 489.2,333.0 489.4,332.6 489.6,332.3 489.8,332.0 490.0,331.5 490.2,331.0 490.4,330.6 490.6,330.3 490.8,330.0 491.0,329.8 491.2,329.7 491.4,329.5 491.6,329.5 491.8,329.7 492.0,330.0 492.2,330.6 492.4,331.1 492.6,331.5 492.8,331.8 493.0,332.2 493.2,332.5 493.4,332.8 493.6,333.1 493.8,333.3 494.0,333.5 494.2,333.7 494.4,333.8 494.6,333.9 494.8,334.0 495.0,334.2 495.2,334.3 495.4,334.4 495.6,334.5 495.8,334.5 496.0,334.6 496.2,334.7 496.4,334.8 496.6,334.9 496.8,334.9 497.0,335.0 497.2,335.1 497.4,335.1 497.6,335.2 497.8,335.3 498.0,335.3 498.2,335.4 498.4,335.4 498.6,335.5 498.8,335.5 499.0,335.6 499.2,335.6 499.4,335.7 499.6,335.7 499.8,335.8 500.0,335.8 501.0,336.0 502.0,336.1 503.0,336.2 504.0,336.3 505.0,336.4 506.0,336.5 507.0,336.6 508.0,336.7 509.0,336.8 510.0,337.0 511.0,337.2 512.0,337.5 513.0,337.9 514.0,338.3 515.0,338.8 516.0,339.2 517.0,339.6 518.0,340.0 519.0,340.3 520.0,340.5 521.0,340.7 522.0,340.8 523.0,340.9 524.0,341.1 525.0,341.2 526.0,341.3 527.0,341.3 528.0,341.4 529.0,341.5 530.0,341.5 531.0,341.5 532.0,341.5 533.0,341.6 534.0,341.6 535.0,341.6 536.0,341.6 537.0,341.6 538.0,341.6 539.0,341.6 540.0,341.7 541.0,341.7 542.0,341.7 543.0,341.7 544.0,341.7 545.0,341.7 546.0,341.7 547.0,341.7 548.0,341.7 549.0,341.7 550.0,341.7 551.0,341.8 552.0,341.8 553.0,341.8 554.0,341.8 555.0,341.8 556.0,341.8 557.0,341.8 558.0,341.8 559.0,341.8 560.0,341.8 561.0,341.8 562.0,341.9 563.0,341.9 564.0,341.9 565.0,341.9 566.0,341.9 567.0,341.9 568.0,341.9" stroke="#ee18ee"/>
</g>
<text x="170.60" y="375.8" text-anchor="middle" class="t">1000</text>
<text x="247.32" y="375.8" text-anchor="middle" class="t">1500</text>
<text x="324.04" y="375.8" text-anchor="middle" class="t">2000</text>
<text x="400.76" y="375.8" text-anchor="middle" class="t">2500</text>
<text x="477.48" y="375.8" text-anchor="middle" class="t">3000</text>
<text x="554.20" y="375.8" text-anchor="middle" class="t">3500</text>
<text x="92.3" y="345.60" text-anchor="end" class="t">0</text>
<text x="92.3" y="266.73" text-anchor="end" class="t">5000</text>
<text x="92.3" y="187.85" text-anchor="end" class="t">10000</text>
<text x="92.3" y="108.97" text-anchor="end" class="t">15000</text>
<text x="92.3" y="30.10" text-anchor="end" class="t">20000</text>
<text x="127.3" y="50.7" class="b">(b)</text>
<path d="M252.3,100.90 H291.6" stroke="#000000" stroke-width="2"/>
<text x="296.4" y="107.40" class="lg">Sample1</text>
<path d="M252.3,121.60 H291.6" stroke="#e81818" stroke-width="2"/>
<text x="296.4" y="128.10" class="lg">Sample2</text>
<path d="M252.3,142.70 H291.6" stroke="#1010ee" stroke-width="2"/>
<text x="296.4" y="149.20" class="lg">Sample3</text>
<path d="M252.3,164.00 H291.6" stroke="#2a7f7d" stroke-width="2"/>
<text x="296.4" y="170.50" class="lg">Sample4</text>
<path d="M252.3,185.00 H291.6" stroke="#ee18ee" stroke-width="2"/>
<text x="296.4" y="191.50" class="lg">Sample5</text>
<text x="259.5" y="405.5" class="ax">Wavenumber / cm<tspan dx="1.0" dy="-9.9" font-size="10px">-1</tspan></text>
<text transform="translate(41.3,265.5) rotate(-90)" class="ax" style="font-size:17px">Raman Intensity / a.u.</text>
</svg>
</body></html>
